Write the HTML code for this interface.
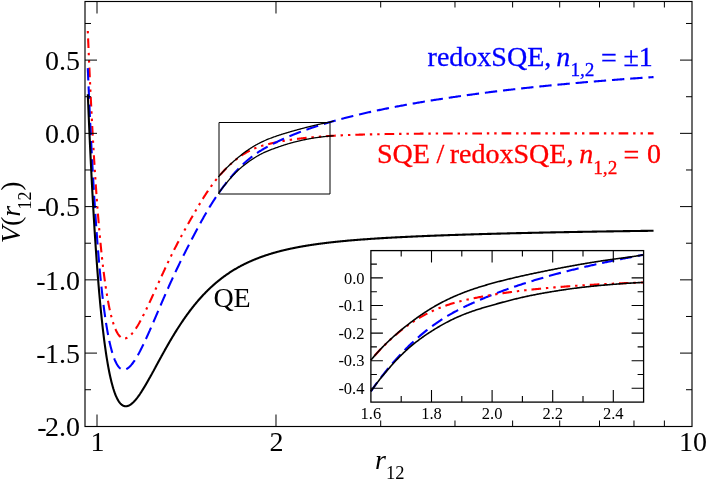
<!DOCTYPE html>
<html><head><meta charset="utf-8"><title>V(r12)</title>
<style>html,body{margin:0;padding:0;background:#fff;}svg{display:block;will-change:transform;}text{font-family:"Liberation Serif",serif;}</style></head><body>
<svg width="706" height="481" viewBox="0 0 706 481">
<rect width="706" height="481" fill="#fff"/>
<g fill="none" stroke-linejoin="round">
<path d="M87.80,31.00 L88.02,36.51 L88.25,41.93 L88.47,47.28 L88.70,52.54 L88.92,57.72 L89.14,62.83 L89.37,67.86 L89.59,72.81 L89.81,77.69 L90.04,82.50 L90.26,87.23 L90.48,91.89 L90.70,96.48 L90.93,101.00 L91.15,105.45 L91.37,109.84 L91.59,114.15 L91.81,118.40 L92.03,122.59 L92.25,126.71 L92.48,130.77 L92.70,134.76 L92.92,138.70 L93.14,142.57 L93.36,146.38 L93.58,150.13 L93.80,153.83 L94.02,157.46 L94.23,161.04 L94.45,164.57 L94.67,168.03 L94.89,171.45 L95.11,174.81 L95.33,178.11 L95.55,181.37 L95.76,184.57 L95.98,187.72 L96.20,190.82 L96.42,193.87 L96.63,196.87 L96.85,199.83 L97.07,202.73 L97.28,205.59 L97.50,208.40 L97.72,211.17 L97.93,213.89 L98.15,216.56 L98.37,219.20 L98.58,221.78 L98.80,224.33 L99.01,226.83 L99.23,229.30 L99.44,231.72 L99.66,234.10 L99.87,236.44 L100.08,238.74 L100.30,241.00 L100.51,243.22 L100.73,245.41 L100.94,247.56 L101.15,249.67 L101.37,251.74 L101.58,253.78 L101.79,255.78 L102.01,257.75 L102.22,259.68 L102.43,261.58 L102.64,263.45 L102.85,265.28 L103.07,267.08 L103.28,268.85 L103.49,270.59 L103.70,272.29 L103.91,273.97 L104.12,275.61 L104.33,277.22 L104.55,278.81 L104.76,280.36 L104.97,281.89 L105.18,283.38 L105.39,284.85 L105.60,286.29 L105.81,287.71 L106.01,289.10 L106.22,290.46 L106.43,291.79 L106.64,293.10 L106.85,294.38 L107.06,295.64 L107.27,296.87 L107.48,298.08 L107.68,299.26 L107.89,300.42 L108.10,301.56 L108.31,302.67 L108.52,303.76 L108.72,304.83 L108.93,305.87 L109.14,306.90 L109.34,307.90 L109.55,308.88 L109.76,309.84 L109.96,310.78 L110.17,311.69 L110.37,312.59 L110.58,313.47 L110.79,314.33 L110.99,315.16 L111.20,315.98 L111.40,316.78 L111.61,317.57 L111.81,318.33 L112.02,319.07 L112.22,319.80 L112.43,320.51 L112.63,321.20 L112.83,321.88 L113.04,322.54 L113.24,323.18 L113.44,323.80 L113.65,324.41 L113.85,325.01 L114.05,325.58 L114.26,326.15 L114.46,326.69 L114.66,327.22 L114.86,327.74 L115.07,328.24 L115.27,328.73 L115.47,329.20 L115.67,329.66 L115.87,330.10 L116.08,330.54 L116.28,330.95 L116.48,331.36 L116.68,331.75 L116.88,332.13 L117.08,332.49 L117.28,332.84 L117.48,333.18 L117.68,333.51 L117.88,333.83 L118.08,334.13 L118.28,334.43 L118.48,334.71 L118.68,334.98 L118.88,335.23 L119.08,335.48 L119.28,335.72 L119.48,335.94 L119.68,336.16 L119.87,336.36 L120.07,336.55 L120.27,336.74 L120.47,336.91 L120.67,337.08 L120.86,337.23 L121.06,337.37 L121.26,337.51 L121.46,337.63 L121.65,337.75 L121.85,337.86 L122.05,337.96 L122.24,338.05 L122.44,338.13 L122.64,338.20 L122.83,338.26 L123.03,338.32 L123.23,338.37 L123.42,338.41 L123.62,338.44 L123.81,338.46 L124.01,338.48 L124.20,338.49 L124.40,338.49 L124.59,338.48 L124.79,338.47 L124.98,338.44 L125.18,338.42 L125.37,338.38 L125.56,338.34 L125.76,338.29 L125.95,338.24 L126.15,338.17 L126.34,338.11 L126.53,338.03 L126.73,337.95 L126.92,337.86 L127.11,337.77 L127.31,337.67 L127.50,337.57 L127.69,337.46 L127.88,337.35 L128.08,337.23 L128.27,337.10 L128.46,336.97 L128.65,336.83 L128.84,336.69 L129.04,336.54 L129.23,336.39 L129.42,336.24 L129.61,336.08 L129.80,335.91 L129.99,335.74 L130.18,335.57 L130.37,335.39 L130.56,335.20 L130.75,335.02 L130.94,334.82 L131.13,334.63 L131.32,334.43 L131.51,334.22 L131.70,334.01 L131.89,333.80 L132.08,333.58 L132.27,333.36 L132.46,333.14 L132.65,332.91 L132.84,332.68 L133.03,332.45 L133.21,332.21 L133.40,331.97 L133.59,331.72 L133.78,331.47 L133.97,331.22 L134.16,330.97 L134.34,330.71 L134.53,330.45 L134.72,330.19 L134.91,329.92 L135.09,329.65 L135.28,329.38 L135.47,329.10 L135.65,328.82 L135.84,328.54 L136.03,328.26 L136.21,327.97 L136.40,327.69 L136.58,327.39 L136.77,327.10 L136.96,326.80 L137.14,326.51 L137.33,326.21 L137.51,325.90 L137.70,325.60 L137.88,325.29 L138.07,324.98 L138.25,324.67 L138.44,324.36 L138.62,324.04 L138.81,323.72 L138.99,323.40 L139.18,323.08 L139.36,322.76 L139.54,322.43 L139.73,322.10 L139.91,321.78 L140.09,321.45 L140.28,321.11 L140.46,320.78 L140.64,320.44 L140.83,320.11 L141.01,319.77 L141.19,319.43 L141.38,319.09 L141.56,318.74 L141.74,318.40 L141.92,318.05 L142.11,317.71 L142.29,317.36 L142.47,317.01 L142.65,316.66 L142.83,316.31 L143.01,315.95 L143.20,315.60 L143.38,315.24 L143.56,314.89 L143.74,314.53 L143.92,314.17 L144.10,313.81 L144.28,313.45 L144.46,313.09 L144.64,312.72 L144.82,312.36 L145.00,312.00 L145.18,311.63 L145.36,311.26 L145.54,310.90 L145.72,310.53 L145.90,310.16 L146.08,309.79 L146.26,309.42 L146.44,309.05 L146.62,308.68 L146.80,308.31 L146.97,307.93 L147.15,307.56 L147.33,307.19 L147.51,306.81 L147.69,306.44 L147.87,306.06 L148.04,305.69 L148.22,305.31 L148.40,304.93 L148.58,304.56 L148.76,304.18 L148.93,303.80 L149.11,303.42 L149.29,303.04 L149.46,302.66 L149.64,302.28 L149.82,301.90 L149.99,301.52 L150.17,301.14 L150.35,300.76 L150.52,300.38 L150.70,300.00 L150.88,299.62 L151.05,299.24 L151.23,298.86 L151.40,298.48 L151.58,298.09 L151.75,297.71 L151.93,297.33 L152.10,296.95 L152.28,296.56 L152.45,296.18 L152.63,295.80 L152.80,295.42 L152.98,295.04 L153.15,294.65 L153.33,294.27 L153.50,293.89 L153.68,293.51 L153.85,293.12 L154.02,292.74 L154.20,292.36 L154.37,291.98 L154.55,291.59 L154.72,291.21 L154.89,290.83 L155.06,290.45 L155.24,290.07 L155.41,289.69 L155.58,289.30 L155.76,288.92 L155.93,288.54 L156.10,288.16 L156.27,287.78 L156.45,287.40 L156.62,287.02 L156.79,286.64 L156.96,286.26 L157.13,285.88 L157.31,285.50 L157.48,285.13 L157.65,284.75 L157.82,284.37 L157.99,283.99 L158.16,283.61 L158.33,283.24 L158.51,282.86 L158.68,282.48 L158.85,282.11 L159.02,281.73 L159.19,281.36 L159.36,280.98 L159.53,280.61 L159.70,280.23 L159.87,279.86 L160.04,279.49 L160.21,279.11 L160.38,278.74 L160.55,278.37 L160.72,278.00 L160.89,277.63 L161.06,277.26 L161.22,276.89 L161.39,276.52 L161.56,276.15 L161.73,275.78 L161.90,275.41 L162.07,275.05 L162.24,274.68 L162.41,274.31 L162.57,273.95 L162.74,273.58 L162.91,273.22 L163.08,272.85 L163.25,272.49 L163.41,272.12 L163.58,271.76 L163.75,271.40 L163.92,271.04 L164.08,270.68 L164.25,270.32 L164.42,269.96 L164.58,269.60 L164.75,269.24 L165.27,268.13 L165.78,267.03 L166.30,265.94 L166.81,264.85 L167.33,263.76 L167.84,262.69 L168.35,261.62 L168.86,260.55 L169.37,259.50 L169.87,258.45 L170.38,257.41 L170.89,256.37 L171.39,255.34 L171.90,254.32 L172.40,253.30 L172.90,252.30 L173.40,251.30 L173.90,250.30 L174.40,249.32 L174.90,248.34 L175.40,247.36 L175.89,246.40 L176.39,245.44 L176.88,244.48 L177.37,243.54 L177.87,242.60 L178.36,241.66 L178.85,240.74 L179.34,239.81 L179.83,238.90 L180.31,237.99 L180.80,237.08 L181.29,236.18 L181.77,235.29 L182.26,234.40 L182.74,233.51 L183.22,232.64 L183.70,231.76 L184.18,230.89 L184.66,230.02 L185.14,229.16 L185.62,228.30 L186.10,227.45 L186.57,226.60 L187.05,225.75 L187.52,224.91 L187.99,224.07 L188.47,223.23 L188.94,222.40 L189.41,221.57 L189.88,220.74 L190.35,219.92 L190.82,219.10 L191.28,218.28 L191.75,217.47 L192.22,216.65 L192.68,215.85 L193.15,215.04 L193.61,214.24 L194.07,213.44 L194.53,212.64 L194.99,211.85 L195.45,211.06 L195.91,210.27 L196.37,209.49 L196.83,208.71 L197.28,207.93 L197.74,207.16 L198.20,206.40 L198.65,205.63 L199.10,204.87 L199.56,204.12 L200.01,203.37 L200.46,202.62 L200.91,201.88 L201.36,201.15 L201.81,200.42 L202.26,199.69 L202.70,198.97 L203.15,198.26 L203.59,197.55 L204.04,196.85 L204.48,196.15 L204.93,195.46 L205.37,194.77 L205.81,194.09 L206.25,193.42 L206.69,192.75 L207.13,192.09 L207.57,191.43 L208.01,190.79 L208.45,190.14 L208.88,189.51 L209.32,188.88 L209.75,188.25 L210.19,187.64 L210.62,187.03 L211.05,186.42 L211.49,185.82 L211.92,185.23 L212.35,184.64 L212.78,184.07 L213.21,183.49 L213.64,182.92 L214.06,182.36 L214.49,181.81 L214.92,181.26 L215.34,180.71 L215.77,180.17 L216.19,179.64 L216.62,179.11 L217.04,178.59 L217.46,178.08 L217.88,177.57 L218.31,177.06 L218.73,176.56 L219.14,176.07 L219.56,175.58 L219.98,175.09 L220.40,174.62 L220.82,174.14 L221.23,173.67 L221.65,173.21 L222.06,172.75 L222.48,172.30 L222.89,171.85 L223.30,171.40 L223.72,170.96 L224.13,170.52 L224.54,170.09 L224.95,169.67 L225.36,169.25 L225.77,168.83 L226.17,168.42 L226.58,168.01 L226.99,167.60 L227.40,167.20 L227.80,166.81 L228.21,166.42 L228.61,166.03 L229.01,165.65 L229.42,165.27 L229.82,164.89 L230.22,164.52 L230.62,164.15 L231.02,163.79 L231.42,163.43 L231.82,163.08 L232.22,162.73 L232.62,162.38 L233.02,162.04 L233.42,161.70 L233.81,161.37 L234.21,161.04 L234.60,160.71 L235.00,160.39 L235.39,160.07 L235.78,159.75 L236.18,159.44 L236.57,159.13 L236.96,158.83 L237.35,158.53 L237.74,158.23 L238.13,157.94 L238.52,157.65 L238.91,157.36 L239.30,157.08 L239.69,156.80 L240.07,156.53 L240.46,156.26 L240.84,155.99 L241.23,155.73 L241.61,155.47 L242.00,155.21 L242.38,154.95 L242.76,154.70 L243.15,154.46 L243.53,154.21 L243.91,153.97 L244.29,153.74 L244.67,153.50 L245.05,153.27 L245.43,153.04 L245.81,152.82 L246.18,152.60 L246.56,152.38 L246.94,152.17 L247.31,151.96 L247.69,151.75 L248.07,151.54 L248.44,151.34 L248.81,151.14 L249.19,150.95 L249.56,150.76 L249.93,150.57 L250.30,150.38 L250.68,150.20 L251.05,150.02 L251.42,149.84 L251.79,149.66 L252.16,149.49 L252.52,149.32 L252.89,149.15 L253.26,148.99 L253.63,148.83 L253.99,148.67 L254.36,148.51 L254.72,148.36 L255.09,148.21 L255.45,148.06 L255.82,147.92 L256.18,147.77 L256.54,147.63 L256.91,147.49 L257.27,147.36 L257.63,147.23 L257.99,147.09 L258.35,146.97 L258.71,146.84 L259.07,146.72 L259.43,146.59 L259.79,146.47 L260.15,146.36 L260.50,146.24 L260.86,146.13 L261.22,146.01 L261.57,145.90 L261.93,145.80 L262.28,145.69 L262.64,145.59 L262.99,145.48 L263.35,145.38 L263.70,145.29 L264.05,145.19 L264.40,145.09 L264.75,145.00 L265.11,144.90 L265.46,144.81 L265.81,144.72 L266.16,144.63 L266.51,144.54 L266.85,144.45 L267.20,144.37 L267.55,144.28 L267.90,144.19 L268.24,144.11 L268.59,144.02 L268.94,143.94 L269.28,143.86 L269.63,143.77 L269.97,143.69 L270.32,143.61 L270.66,143.53 L271.00,143.45 L271.35,143.37 L271.69,143.29 L272.03,143.22 L272.37,143.14 L272.71,143.06 L273.05,142.99 L273.39,142.92 L273.73,142.84 L274.07,142.77 L274.41,142.70 L274.75,142.62 L275.09,142.55 L275.42,142.48 L275.76,142.41 L276.10,142.34 L276.43,142.27 L276.77,142.20 L277.10,142.14 L277.44,142.07 L277.77,142.00 L278.11,141.94 L278.44,141.87 L278.77,141.81 L279.10,141.74 L279.44,141.68 L279.77,141.62 L280.10,141.55 L280.43,141.49 L280.76,141.43 L281.09,141.37 L281.42,141.31 L281.75,141.25 L282.08,141.19 L282.41,141.13 L282.73,141.07 L283.06,141.02 L283.39,140.96 L283.72,140.90 L284.04,140.85 L284.37,140.79 L284.69,140.73 L285.02,140.68 L285.34,140.63 L285.67,140.57 L285.99,140.52 L286.31,140.47 L286.64,140.41 L286.96,140.36 L287.28,140.31 L287.60,140.26 L287.93,140.21 L288.25,140.16 L288.57,140.11 L288.89,140.06 L289.21,140.01 L289.53,139.96 L289.85,139.91 L290.16,139.86 L290.48,139.82 L290.80,139.77 L291.12,139.72 L291.43,139.68 L291.75,139.63 L292.07,139.58 L292.38,139.54 L292.70,139.49 L293.01,139.45 L293.33,139.41 L293.64,139.36 L293.96,139.32 L294.27,139.28 L294.58,139.23 L294.90,139.19 L295.21,139.15 L295.52,139.11 L295.83,139.07 L296.14,139.03 L296.45,138.99 L296.77,138.95 L297.08,138.91 L297.39,138.87 L297.69,138.83 L298.00,138.79 L298.31,138.75 L298.62,138.71 L298.93,138.67 L299.24,138.64 L299.54,138.60 L299.85,138.56 L300.16,138.53 L300.46,138.49 L300.77,138.45 L301.07,138.42 L301.38,138.38 L301.68,138.35 L301.99,138.31 L302.29,138.28 L302.60,138.24 L302.90,138.21 L303.20,138.18 L303.50,138.14 L303.81,138.11 L304.11,138.08 L304.41,138.04 L304.71,138.01 L305.01,137.98 L305.31,137.95 L305.61,137.91 L305.91,137.88 L306.21,137.85 L306.51,137.82 L306.81,137.79 L307.11,137.76 L307.41,137.73 L307.70,137.70 L308.00,137.67 L308.30,137.64 L308.59,137.61 L308.89,137.58 L309.19,137.55 L309.48,137.52 L309.78,137.50 L310.07,137.47 L310.37,137.44 L310.66,137.41 L310.96,137.39 L311.25,137.36 L311.54,137.33 L311.84,137.30 L312.13,137.28 L312.42,137.25 L312.71,137.23 L313.00,137.20 L313.30,137.17 L313.59,137.15 L313.88,137.12 L314.17,137.10 L314.46,137.07 L314.75,137.05 L315.04,137.02 L315.33,137.00 L315.61,136.97 L315.90,136.95 L316.19,136.93 L316.48,136.90 L316.77,136.88 L317.05,136.86 L317.34,136.83 L317.63,136.81 L317.91,136.79 L318.20,136.76 L318.48,136.74 L318.77,136.72 L319.05,136.70 L319.34,136.68 L319.62,136.65 L319.91,136.63 L320.19,136.61 L320.47,136.59 L320.76,136.57 L321.04,136.55 L321.32,136.53 L321.60,136.51 L321.88,136.49 L322.17,136.46 L322.45,136.44 L322.73,136.42 L323.01,136.40 L323.29,136.39 L323.57,136.37 L323.85,136.35 L324.13,136.33 L324.41,136.31 L324.69,136.29 L324.96,136.27 L325.24,136.25 L325.52,136.23 L325.80,136.21 L326.07,136.20 L326.35,136.18 L326.63,136.16 L326.90,136.14 L327.18,136.12 L327.46,136.11 L327.73,136.09 L328.01,136.07 L328.28,136.05 L328.56,136.04 L328.83,136.02 L329.10,136.00 L329.38,135.99 L329.65,135.97 L329.93,135.95 L330.20,135.94 L330.47,135.92 L330.74,135.90 L331.01,135.89 L331.29,135.87 L331.56,135.86 L331.83,135.84 L332.10,135.83 L332.37,135.81 L332.64,135.79 L332.91,135.78 L333.18,135.76 L333.45,135.75 L333.72,135.73 L333.99,135.72 L334.26,135.71 L334.52,135.69 L334.79,135.68 L335.06,135.66 L335.33,135.65 L335.59,135.63 L335.86,135.62 L336.13,135.61 L336.39,135.59 L336.66,135.58 L336.93,135.56 L337.19,135.55 L337.46,135.54 L337.72,135.52 L337.99,135.51 L338.25,135.50 L338.52,135.48 L338.78,135.47 L339.04,135.46 L339.31,135.45 L339.57,135.43 L339.83,135.42 L340.10,135.41 L340.36,135.40 L340.62,135.38 L340.88,135.37 L341.14,135.36 L341.40,135.35 L341.66,135.33 L341.93,135.32 L342.19,135.31 L342.45,135.30 L342.71,135.29 L342.97,135.28 L343.23,135.26 L343.48,135.25 L343.74,135.24 L344.78,135.20 L345.82,135.15 L346.85,135.11 L347.89,135.07 L348.92,135.03 L349.96,134.99 L351.00,134.95 L352.03,134.91 L353.07,134.87 L354.10,134.84 L355.14,134.80 L356.18,134.77 L357.21,134.73 L358.25,134.70 L359.29,134.67 L360.32,134.64 L361.36,134.61 L362.39,134.58 L363.43,134.55 L364.47,134.52 L365.50,134.49 L366.54,134.46 L367.57,134.44 L368.61,134.41 L369.65,134.39 L370.68,134.36 L371.72,134.34 L372.76,134.32 L373.79,134.29 L374.83,134.27 L375.86,134.25 L376.90,134.23 L377.94,134.21 L378.97,134.19 L380.01,134.17 L381.04,134.15 L382.08,134.13 L383.12,134.11 L384.15,134.09 L385.19,134.07 L386.23,134.06 L387.26,134.04 L388.30,134.02 L389.33,134.01 L390.37,133.99 L391.41,133.98 L392.44,133.96 L393.48,133.95 L394.51,133.93 L395.55,133.92 L396.59,133.91 L397.62,133.89 L398.66,133.88 L399.70,133.87 L400.73,133.85 L401.77,133.84 L402.80,133.83 L403.84,133.82 L404.88,133.81 L405.91,133.80 L406.95,133.79 L407.98,133.78 L409.02,133.77 L410.06,133.76 L411.09,133.75 L412.13,133.74 L413.17,133.73 L414.20,133.72 L415.24,133.71 L416.27,133.70 L417.31,133.69 L418.35,133.68 L419.38,133.68 L420.42,133.67 L421.45,133.66 L422.49,133.65 L423.53,133.65 L424.56,133.64 L425.60,133.63 L426.64,133.63 L427.67,133.62 L428.71,133.61 L429.74,133.61 L430.78,133.60 L431.82,133.59 L432.85,133.59 L433.89,133.58 L434.92,133.58 L435.96,133.57 L437.00,133.57 L438.03,133.56 L439.07,133.56 L440.11,133.55 L441.14,133.55 L442.18,133.54 L443.21,133.54 L444.25,133.53 L445.29,133.53 L446.32,133.52 L447.36,133.52 L448.39,133.52 L449.43,133.51 L450.47,133.51 L451.50,133.51 L452.54,133.50 L453.58,133.50 L454.61,133.49 L455.65,133.49 L456.68,133.49 L457.72,133.48 L458.76,133.48 L459.79,133.48 L460.83,133.47 L461.86,133.47 L462.90,133.47 L463.94,133.47 L464.97,133.46 L466.01,133.46 L467.05,133.46 L468.08,133.46 L469.12,133.45 L470.15,133.45 L471.19,133.45 L472.23,133.45 L473.26,133.44 L474.30,133.44 L475.33,133.44 L476.37,133.44 L477.41,133.43 L478.44,133.43 L479.48,133.43 L480.51,133.43 L481.55,133.43 L482.59,133.43 L483.62,133.42 L484.66,133.42 L485.70,133.42 L486.73,133.42 L487.77,133.42 L488.80,133.42 L489.84,133.41 L490.88,133.41 L491.91,133.41 L492.95,133.41 L493.98,133.41 L495.02,133.41 L496.06,133.41 L497.09,133.40 L498.13,133.40 L499.17,133.40 L500.20,133.40 L501.24,133.40 L502.27,133.40 L503.31,133.40 L504.35,133.40 L505.38,133.39 L506.42,133.39 L507.45,133.39 L508.49,133.39 L509.53,133.39 L510.56,133.39 L511.60,133.39 L512.64,133.39 L513.67,133.39 L514.71,133.39 L515.74,133.38 L516.78,133.38 L517.82,133.38 L518.85,133.38 L519.89,133.38 L520.92,133.38 L521.96,133.38 L523.00,133.38 L524.03,133.38 L525.07,133.38 L526.11,133.38 L527.14,133.38 L528.18,133.38 L529.21,133.38 L530.25,133.37 L531.29,133.37 L532.32,133.37 L533.36,133.37 L534.39,133.37 L535.43,133.37 L536.47,133.37 L537.50,133.37 L538.54,133.37 L539.58,133.37 L540.61,133.37 L541.65,133.37 L542.68,133.37 L543.72,133.37 L544.76,133.37 L545.79,133.37 L546.83,133.37 L547.86,133.37 L548.90,133.37 L549.94,133.37 L550.97,133.37 L552.01,133.37 L553.05,133.36 L554.08,133.36 L555.12,133.36 L556.15,133.36 L557.19,133.36 L558.23,133.36 L559.26,133.36 L560.30,133.36 L561.33,133.36 L562.37,133.36 L563.41,133.36 L564.44,133.36 L565.48,133.36 L566.52,133.36 L567.55,133.36 L568.59,133.36 L569.62,133.36 L570.66,133.36 L571.70,133.36 L572.73,133.36 L573.77,133.36 L574.80,133.36 L575.84,133.36 L576.88,133.36 L577.91,133.36 L578.95,133.36 L579.99,133.36 L581.02,133.36 L582.06,133.36 L583.09,133.36 L584.13,133.36 L585.17,133.36 L586.20,133.36 L587.24,133.36 L588.27,133.36 L589.31,133.36 L590.35,133.36 L591.38,133.36 L592.42,133.36 L593.46,133.36 L594.49,133.36 L595.53,133.36 L596.56,133.36 L597.60,133.36 L598.64,133.36 L599.67,133.35 L600.71,133.35 L601.74,133.35 L602.78,133.35 L603.82,133.35 L604.85,133.35 L605.89,133.35 L606.93,133.35 L607.96,133.35 L609.00,133.35 L610.03,133.35 L611.07,133.35 L612.11,133.35 L613.14,133.35 L614.18,133.35 L615.21,133.35 L616.25,133.35 L617.29,133.35 L618.32,133.35 L619.36,133.35 L620.40,133.35 L621.43,133.35 L622.47,133.35 L623.50,133.35 L624.54,133.35 L625.58,133.35 L626.61,133.35 L627.65,133.35 L628.68,133.35 L629.72,133.35 L630.76,133.35 L631.79,133.35 L632.83,133.35 L633.87,133.35 L634.90,133.35 L635.94,133.35 L636.97,133.35 L638.01,133.35 L639.05,133.35 L640.08,133.35 L641.12,133.35 L642.15,133.35 L643.19,133.35 L644.23,133.35 L645.26,133.35 L646.30,133.35 L647.34,133.35 L648.37,133.35 L649.41,133.35 L650.44,133.35 L651.48,133.35 L652.52,133.35 L653.55,133.35" stroke="#ff0000" stroke-width="2.10" stroke-dasharray="2.4 4.97 9.64 4.87 2.4 4.976" stroke-dashoffset="0"/>
<path d="M87.80,68.11 L88.02,73.57 L88.25,78.94 L88.47,84.23 L88.70,89.45 L88.92,94.58 L89.14,99.64 L89.37,104.62 L89.59,109.52 L89.81,114.35 L90.04,119.11 L90.26,123.80 L90.48,128.41 L90.70,132.95 L90.93,137.43 L91.15,141.83 L91.37,146.17 L91.59,150.44 L91.81,154.64 L92.03,158.78 L92.25,162.86 L92.48,166.87 L92.70,170.82 L92.92,174.71 L93.14,178.53 L93.36,182.30 L93.58,186.01 L93.80,189.66 L94.02,193.25 L94.23,196.79 L94.45,200.27 L94.67,203.69 L94.89,207.06 L95.11,210.38 L95.33,213.64 L95.55,216.85 L95.76,220.01 L95.98,223.12 L96.20,226.18 L96.42,229.19 L96.63,232.15 L96.85,235.06 L97.07,237.93 L97.28,240.74 L97.50,243.51 L97.72,246.24 L97.93,248.92 L98.15,251.56 L98.37,254.15 L98.58,256.70 L98.80,259.20 L99.01,261.67 L99.23,264.09 L99.44,266.47 L99.66,268.81 L99.87,271.12 L100.08,273.38 L100.30,275.60 L100.51,277.79 L100.73,279.93 L100.94,282.04 L101.15,284.12 L101.37,286.15 L101.58,288.16 L101.79,290.12 L102.01,292.05 L102.22,293.95 L102.43,295.81 L102.64,297.64 L102.85,299.44 L103.07,301.21 L103.28,302.94 L103.49,304.64 L103.70,306.31 L103.91,307.95 L104.12,309.56 L104.33,311.14 L104.55,312.68 L104.76,314.20 L104.97,315.70 L105.18,317.16 L105.39,318.59 L105.60,320.00 L105.81,321.38 L106.01,322.74 L106.22,324.06 L106.43,325.36 L106.64,326.64 L106.85,327.89 L107.06,329.11 L107.27,330.31 L107.48,331.49 L107.68,332.64 L107.89,333.77 L108.10,334.87 L108.31,335.95 L108.52,337.01 L108.72,338.05 L108.93,339.06 L109.14,340.06 L109.34,341.03 L109.55,341.98 L109.76,342.90 L109.96,343.81 L110.17,344.70 L110.37,345.57 L110.58,346.42 L110.79,347.24 L110.99,348.05 L111.20,348.84 L111.40,349.61 L111.61,350.37 L111.81,351.10 L112.02,351.82 L112.22,352.52 L112.43,353.20 L112.63,353.86 L112.83,354.51 L113.04,355.14 L113.24,355.75 L113.44,356.35 L113.65,356.93 L113.85,357.50 L114.05,358.05 L114.26,358.58 L114.46,359.10 L114.66,359.60 L114.86,360.09 L115.07,360.57 L115.27,361.03 L115.47,361.47 L115.67,361.91 L115.87,362.33 L116.08,362.73 L116.28,363.12 L116.48,363.50 L116.68,363.87 L116.88,364.22 L117.08,364.56 L117.28,364.89 L117.48,365.20 L117.68,365.50 L117.88,365.79 L118.08,366.07 L118.28,366.34 L118.48,366.60 L118.68,366.84 L118.88,367.08 L119.08,367.30 L119.28,367.51 L119.48,367.71 L119.68,367.90 L119.87,368.08 L120.07,368.25 L120.27,368.41 L120.47,368.56 L120.67,368.71 L120.86,368.84 L121.06,368.96 L121.26,369.07 L121.46,369.17 L121.65,369.27 L121.85,369.35 L122.05,369.43 L122.24,369.49 L122.44,369.55 L122.64,369.60 L122.83,369.64 L123.03,369.68 L123.23,369.70 L123.42,369.72 L123.62,369.73 L123.81,369.73 L124.01,369.73 L124.20,369.72 L124.40,369.70 L124.59,369.67 L124.79,369.63 L124.98,369.59 L125.18,369.54 L125.37,369.49 L125.56,369.42 L125.76,369.35 L125.95,369.28 L126.15,369.20 L126.34,369.11 L126.53,369.01 L126.73,368.91 L126.92,368.81 L127.11,368.69 L127.31,368.58 L127.50,368.45 L127.69,368.32 L127.88,368.19 L128.08,368.05 L128.27,367.90 L128.46,367.75 L128.65,367.59 L128.84,367.43 L129.04,367.27 L129.23,367.09 L129.42,366.92 L129.61,366.74 L129.80,366.55 L129.99,366.36 L130.18,366.17 L130.37,365.97 L130.56,365.76 L130.75,365.56 L130.94,365.34 L131.13,365.13 L131.32,364.91 L131.51,364.68 L131.70,364.45 L131.89,364.22 L132.08,363.98 L132.27,363.74 L132.46,363.50 L132.65,363.25 L132.84,363.00 L133.03,362.75 L133.21,362.49 L133.40,362.23 L133.59,361.96 L133.78,361.69 L133.97,361.42 L134.16,361.15 L134.34,360.87 L134.53,360.59 L134.72,360.31 L134.91,360.02 L135.09,359.73 L135.28,359.44 L135.47,359.14 L135.65,358.84 L135.84,358.54 L136.03,358.24 L136.21,357.93 L136.40,357.62 L136.58,357.31 L136.77,357.00 L136.96,356.68 L137.14,356.36 L137.33,356.04 L137.51,355.72 L137.70,355.39 L137.88,355.07 L138.07,354.74 L138.25,354.41 L138.44,354.07 L138.62,353.74 L138.81,353.40 L138.99,353.06 L139.18,352.72 L139.36,352.37 L139.54,352.03 L139.73,351.68 L139.91,351.33 L140.09,350.98 L140.28,350.63 L140.46,350.27 L140.64,349.92 L140.83,349.56 L141.01,349.20 L141.19,348.84 L141.38,348.48 L141.56,348.12 L141.74,347.75 L141.92,347.39 L142.11,347.02 L142.29,346.65 L142.47,346.28 L142.65,345.91 L142.83,345.54 L143.01,345.16 L143.20,344.79 L143.38,344.41 L143.56,344.04 L143.74,343.66 L143.92,343.28 L144.10,342.90 L144.28,342.52 L144.46,342.14 L144.64,341.75 L144.82,341.37 L145.00,340.98 L145.18,340.60 L145.36,340.21 L145.54,339.82 L145.72,339.44 L145.90,339.05 L146.08,338.66 L146.26,338.27 L146.44,337.87 L146.62,337.48 L146.80,337.09 L146.97,336.70 L147.15,336.30 L147.33,335.91 L147.51,335.51 L147.69,335.12 L147.87,334.72 L148.04,334.33 L148.22,333.93 L148.40,333.53 L148.58,333.13 L148.76,332.73 L148.93,332.34 L149.11,331.94 L149.29,331.54 L149.46,331.14 L149.64,330.74 L149.82,330.34 L149.99,329.93 L150.17,329.53 L150.35,329.13 L150.52,328.73 L150.70,328.33 L150.88,327.93 L151.05,327.52 L151.23,327.12 L151.40,326.72 L151.58,326.31 L151.75,325.91 L151.93,325.51 L152.10,325.10 L152.28,324.70 L152.45,324.30 L152.63,323.89 L152.80,323.49 L152.98,323.09 L153.15,322.68 L153.33,322.28 L153.50,321.87 L153.68,321.47 L153.85,321.07 L154.02,320.66 L154.20,320.26 L154.37,319.86 L154.55,319.45 L154.72,319.05 L154.89,318.65 L155.06,318.24 L155.24,317.84 L155.41,317.44 L155.58,317.03 L155.76,316.63 L155.93,316.23 L156.10,315.82 L156.27,315.42 L156.45,315.02 L156.62,314.62 L156.79,314.22 L156.96,313.81 L157.13,313.41 L157.31,313.01 L157.48,312.61 L157.65,312.21 L157.82,311.81 L157.99,311.41 L158.16,311.01 L158.33,310.61 L158.51,310.21 L158.68,309.81 L158.85,309.42 L159.02,309.02 L159.19,308.62 L159.36,308.22 L159.53,307.82 L159.70,307.43 L159.87,307.03 L160.04,306.64 L160.21,306.24 L160.38,305.85 L160.55,305.45 L160.72,305.06 L160.89,304.66 L161.06,304.27 L161.22,303.88 L161.39,303.48 L161.56,303.09 L161.73,302.70 L161.90,302.31 L162.07,301.92 L162.24,301.53 L162.41,301.14 L162.57,300.75 L162.74,300.36 L162.91,299.97 L163.08,299.58 L163.25,299.19 L163.41,298.81 L163.58,298.42 L163.75,298.04 L163.92,297.65 L164.08,297.26 L164.25,296.88 L164.42,296.50 L164.58,296.11 L164.75,295.73 L165.27,294.55 L165.78,293.37 L166.30,292.20 L166.81,291.03 L167.33,289.87 L167.84,288.71 L168.35,287.57 L168.86,286.42 L169.37,285.29 L169.87,284.16 L170.38,283.03 L170.89,281.92 L171.39,280.81 L171.90,279.70 L172.40,278.60 L172.90,277.51 L173.40,276.43 L173.90,275.35 L174.40,274.28 L174.90,273.21 L175.40,272.15 L175.89,271.10 L176.39,270.06 L176.88,269.02 L177.37,267.98 L177.87,266.96 L178.36,265.93 L178.85,264.92 L179.34,263.91 L179.83,262.91 L180.31,261.91 L180.80,260.92 L181.29,259.93 L181.77,258.95 L182.26,257.97 L182.74,257.00 L183.22,256.03 L183.70,255.07 L184.18,254.12 L184.66,253.16 L185.14,252.22 L185.62,251.27 L186.10,250.33 L186.57,249.40 L187.05,248.47 L187.52,247.54 L187.99,246.62 L188.47,245.70 L188.94,244.78 L189.41,243.87 L189.88,242.96 L190.35,242.05 L190.82,241.15 L191.28,240.25 L191.75,239.35 L192.22,238.46 L192.68,237.57 L193.15,236.69 L193.61,235.81 L194.07,234.93 L194.53,234.05 L194.99,233.18 L195.45,232.31 L195.91,231.44 L196.37,230.58 L196.83,229.72 L197.28,228.87 L197.74,228.02 L198.20,227.17 L198.65,226.33 L199.10,225.49 L199.56,224.66 L200.01,223.83 L200.46,223.00 L200.91,222.18 L201.36,221.36 L201.81,220.55 L202.26,219.75 L202.70,218.94 L203.15,218.15 L203.59,217.35 L204.04,216.57 L204.48,215.79 L204.93,215.01 L205.37,214.24 L205.81,213.47 L206.25,212.71 L206.69,211.96 L207.13,211.21 L207.57,210.46 L208.01,209.72 L208.45,208.99 L208.88,208.27 L209.32,207.54 L209.75,206.83 L210.19,206.12 L210.62,205.41 L211.05,204.72 L211.49,204.02 L211.92,203.33 L212.35,202.65 L212.78,201.98 L213.21,201.30 L213.64,200.64 L214.06,199.98 L214.49,199.32 L214.92,198.68 L215.34,198.03 L215.77,197.39 L216.19,196.76 L216.62,196.13 L217.04,195.51 L217.46,194.89 L217.88,194.28 L218.31,193.67 L218.73,193.06 L219.14,192.47 L219.56,191.87 L219.98,191.28 L220.40,190.70 L220.82,190.12 L221.23,189.54 L221.65,188.97 L222.06,188.41 L222.48,187.85 L222.89,187.29 L223.30,186.74 L223.72,186.19 L224.13,185.65 L224.54,185.11 L224.95,184.57 L225.36,184.04 L225.77,183.51 L226.17,182.99 L226.58,182.47 L226.99,181.96 L227.40,181.45 L227.80,180.94 L228.21,180.44 L228.61,179.94 L229.01,179.45 L229.42,178.96 L229.82,178.48 L230.22,177.99 L230.62,177.52 L231.02,177.04 L231.42,176.57 L231.82,176.11 L232.22,175.64 L232.62,175.19 L233.02,174.73 L233.42,174.28 L233.81,173.83 L234.21,173.39 L234.60,172.95 L235.00,172.51 L235.39,172.08 L235.78,171.65 L236.18,171.23 L236.57,170.81 L236.96,170.39 L237.35,169.98 L237.74,169.57 L238.13,169.16 L238.52,168.76 L238.91,168.36 L239.30,167.97 L239.69,167.57 L240.07,167.19 L240.46,166.80 L240.84,166.42 L241.23,166.04 L241.61,165.67 L242.00,165.30 L242.38,164.93 L242.76,164.56 L243.15,164.20 L243.53,163.85 L243.91,163.49 L244.29,163.14 L244.67,162.80 L245.05,162.45 L245.43,162.11 L245.81,161.78 L246.18,161.44 L246.56,161.11 L246.94,160.78 L247.31,160.46 L247.69,160.14 L248.07,159.82 L248.44,159.51 L248.81,159.20 L249.19,158.89 L249.56,158.58 L249.93,158.28 L250.30,157.98 L250.68,157.69 L251.05,157.39 L251.42,157.10 L251.79,156.82 L252.16,156.53 L252.52,156.25 L252.89,155.97 L253.26,155.70 L253.63,155.43 L253.99,155.16 L254.36,154.89 L254.72,154.63 L255.09,154.37 L255.45,154.11 L255.82,153.85 L256.18,153.60 L256.54,153.35 L256.91,153.10 L257.27,152.86 L257.63,152.61 L257.99,152.37 L258.35,152.14 L258.71,151.90 L259.07,151.67 L259.43,151.44 L259.79,151.21 L260.15,150.99 L260.50,150.77 L260.86,150.54 L261.22,150.33 L261.57,150.11 L261.93,149.90 L262.28,149.68 L262.64,149.47 L262.99,149.27 L263.35,149.06 L263.70,148.86 L264.05,148.65 L264.40,148.45 L264.75,148.26 L265.11,148.06 L265.46,147.86 L265.81,147.67 L266.16,147.48 L266.51,147.28 L266.85,147.09 L267.20,146.90 L267.55,146.71 L267.90,146.53 L268.24,146.34 L268.59,146.15 L268.94,145.97 L269.28,145.78 L269.63,145.60 L269.97,145.42 L270.32,145.24 L270.66,145.06 L271.00,144.88 L271.35,144.70 L271.69,144.53 L272.03,144.35 L272.37,144.18 L272.71,144.00 L273.05,143.83 L273.39,143.66 L273.73,143.49 L274.07,143.32 L274.41,143.15 L274.75,142.98 L275.09,142.81 L275.42,142.64 L275.76,142.48 L276.10,142.31 L276.43,142.15 L276.77,141.99 L277.10,141.82 L277.44,141.66 L277.77,141.50 L278.11,141.34 L278.44,141.18 L278.77,141.02 L279.10,140.87 L279.44,140.71 L279.77,140.55 L280.10,140.40 L280.43,140.24 L280.76,140.09 L281.09,139.94 L281.42,139.79 L281.75,139.64 L282.08,139.48 L282.41,139.34 L282.73,139.19 L283.06,139.04 L283.39,138.89 L283.72,138.74 L284.04,138.60 L284.37,138.45 L284.69,138.31 L285.02,138.16 L285.34,138.02 L285.67,137.88 L285.99,137.74 L286.31,137.60 L286.64,137.45 L286.96,137.31 L287.28,137.18 L287.60,137.04 L287.93,136.90 L288.25,136.76 L288.57,136.63 L288.89,136.49 L289.21,136.35 L289.53,136.22 L289.85,136.09 L290.16,135.95 L290.48,135.82 L290.80,135.69 L291.12,135.56 L291.43,135.42 L291.75,135.29 L292.07,135.16 L292.38,135.03 L292.70,134.91 L293.01,134.78 L293.33,134.65 L293.64,134.52 L293.96,134.40 L294.27,134.27 L294.58,134.15 L294.90,134.02 L295.21,133.90 L295.52,133.77 L295.83,133.65 L296.14,133.53 L296.45,133.41 L296.77,133.28 L297.08,133.16 L297.39,133.04 L297.69,132.92 L298.00,132.80 L298.31,132.68 L298.62,132.57 L298.93,132.45 L299.24,132.33 L299.54,132.21 L299.85,132.10 L300.16,131.98 L300.46,131.87 L300.77,131.75 L301.07,131.64 L301.38,131.52 L301.68,131.41 L301.99,131.30 L302.29,131.18 L302.60,131.07 L302.90,130.96 L303.20,130.85 L303.50,130.74 L303.81,130.63 L304.11,130.52 L304.41,130.41 L304.71,130.30 L305.01,130.19 L305.31,130.08 L305.61,129.98 L305.91,129.87 L306.21,129.76 L306.51,129.66 L306.81,129.55 L307.11,129.44 L307.41,129.34 L307.70,129.23 L308.00,129.13 L308.30,129.03 L308.59,128.92 L308.89,128.82 L309.19,128.72 L309.48,128.62 L309.78,128.51 L310.07,128.41 L310.37,128.31 L310.66,128.21 L310.96,128.11 L311.25,128.01 L311.54,127.91 L311.84,127.81 L312.13,127.71 L312.42,127.61 L312.71,127.52 L313.00,127.42 L313.30,127.32 L313.59,127.22 L313.88,127.13 L314.17,127.03 L314.46,126.93 L314.75,126.84 L315.04,126.74 L315.33,126.65 L315.61,126.55 L315.90,126.46 L316.19,126.37 L316.48,126.27 L316.77,126.18 L317.05,126.09 L317.34,125.99 L317.63,125.90 L317.91,125.81 L318.20,125.72 L318.48,125.63 L318.77,125.54 L319.05,125.45 L319.34,125.36 L319.62,125.27 L319.91,125.18 L320.19,125.09 L320.47,125.00 L320.76,124.91 L321.04,124.82 L321.32,124.73 L321.60,124.65 L321.88,124.56 L322.17,124.47 L322.45,124.38 L322.73,124.30 L323.01,124.21 L323.29,124.13 L323.57,124.04 L323.85,123.95 L324.13,123.87 L324.41,123.79 L324.69,123.70 L324.96,123.62 L325.24,123.53 L325.52,123.45 L325.80,123.37 L326.07,123.28 L326.35,123.20 L326.63,123.12 L326.90,123.03 L327.18,122.95 L327.46,122.87 L327.73,122.79 L328.01,122.71 L328.28,122.63 L328.56,122.55 L328.83,122.47 L329.10,122.39 L329.38,122.31 L329.65,122.23 L329.93,122.15 L330.20,122.07 L330.47,121.99 L330.74,121.91 L331.01,121.83 L331.29,121.75 L331.56,121.68 L331.83,121.60 L332.10,121.52 L332.37,121.44 L332.64,121.37 L332.91,121.29 L333.18,121.21 L333.45,121.14 L333.72,121.06 L333.99,120.99 L334.26,120.91 L334.52,120.83 L334.79,120.76 L335.06,120.68 L335.33,120.61 L335.59,120.54 L335.86,120.46 L336.13,120.39 L336.39,120.31 L336.66,120.24 L336.93,120.17 L337.19,120.09 L337.46,120.02 L337.72,119.95 L337.99,119.88 L338.25,119.80 L338.52,119.73 L338.78,119.66 L339.04,119.59 L339.31,119.52 L339.57,119.45 L339.83,119.38 L340.10,119.31 L340.36,119.23 L340.62,119.16 L340.88,119.09 L341.14,119.02 L341.40,118.95 L341.66,118.89 L341.93,118.82 L342.19,118.75 L342.45,118.68 L342.71,118.61 L342.97,118.54 L343.23,118.47 L343.48,118.40 L343.74,118.34 L344.78,118.07 L345.82,117.80 L346.85,117.53 L347.89,117.27 L348.92,117.00 L349.96,116.74 L351.00,116.48 L352.03,116.23 L353.07,115.97 L354.10,115.72 L355.14,115.47 L356.18,115.21 L357.21,114.97 L358.25,114.72 L359.29,114.47 L360.32,114.23 L361.36,113.99 L362.39,113.75 L363.43,113.51 L364.47,113.27 L365.50,113.03 L366.54,112.80 L367.57,112.57 L368.61,112.34 L369.65,112.11 L370.68,111.88 L371.72,111.65 L372.76,111.42 L373.79,111.20 L374.83,110.98 L375.86,110.75 L376.90,110.53 L377.94,110.31 L378.97,110.10 L380.01,109.88 L381.04,109.66 L382.08,109.45 L383.12,109.24 L384.15,109.02 L385.19,108.81 L386.23,108.60 L387.26,108.40 L388.30,108.19 L389.33,107.98 L390.37,107.78 L391.41,107.58 L392.44,107.37 L393.48,107.17 L394.51,106.97 L395.55,106.77 L396.59,106.57 L397.62,106.38 L398.66,106.18 L399.70,105.99 L400.73,105.79 L401.77,105.60 L402.80,105.41 L403.84,105.22 L404.88,105.03 L405.91,104.84 L406.95,104.65 L407.98,104.46 L409.02,104.28 L410.06,104.09 L411.09,103.91 L412.13,103.72 L413.17,103.54 L414.20,103.36 L415.24,103.18 L416.27,103.00 L417.31,102.82 L418.35,102.64 L419.38,102.47 L420.42,102.29 L421.45,102.11 L422.49,101.94 L423.53,101.77 L424.56,101.59 L425.60,101.42 L426.64,101.25 L427.67,101.08 L428.71,100.91 L429.74,100.74 L430.78,100.58 L431.82,100.41 L432.85,100.24 L433.89,100.08 L434.92,99.91 L435.96,99.75 L437.00,99.58 L438.03,99.42 L439.07,99.26 L440.11,99.10 L441.14,98.94 L442.18,98.78 L443.21,98.62 L444.25,98.46 L445.29,98.31 L446.32,98.15 L447.36,97.99 L448.39,97.84 L449.43,97.68 L450.47,97.53 L451.50,97.38 L452.54,97.22 L453.58,97.07 L454.61,96.92 L455.65,96.77 L456.68,96.62 L457.72,96.47 L458.76,96.33 L459.79,96.18 L460.83,96.03 L461.86,95.88 L462.90,95.74 L463.94,95.59 L464.97,95.45 L466.01,95.31 L467.05,95.16 L468.08,95.02 L469.12,94.88 L470.15,94.74 L471.19,94.60 L472.23,94.46 L473.26,94.32 L474.30,94.18 L475.33,94.04 L476.37,93.90 L477.41,93.76 L478.44,93.63 L479.48,93.49 L480.51,93.36 L481.55,93.22 L482.59,93.09 L483.62,92.95 L484.66,92.82 L485.70,92.69 L486.73,92.56 L487.77,92.43 L488.80,92.29 L489.84,92.16 L490.88,92.03 L491.91,91.91 L492.95,91.78 L493.98,91.65 L495.02,91.52 L496.06,91.39 L497.09,91.27 L498.13,91.14 L499.17,91.02 L500.20,90.89 L501.24,90.77 L502.27,90.64 L503.31,90.52 L504.35,90.40 L505.38,90.28 L506.42,90.15 L507.45,90.03 L508.49,89.91 L509.53,89.79 L510.56,89.67 L511.60,89.55 L512.64,89.43 L513.67,89.32 L514.71,89.20 L515.74,89.08 L516.78,88.96 L517.82,88.85 L518.85,88.73 L519.89,88.62 L520.92,88.50 L521.96,88.39 L523.00,88.27 L524.03,88.16 L525.07,88.05 L526.11,87.94 L527.14,87.82 L528.18,87.71 L529.21,87.60 L530.25,87.49 L531.29,87.38 L532.32,87.27 L533.36,87.16 L534.39,87.05 L535.43,86.94 L536.47,86.84 L537.50,86.73 L538.54,86.62 L539.58,86.51 L540.61,86.41 L541.65,86.30 L542.68,86.20 L543.72,86.09 L544.76,85.99 L545.79,85.88 L546.83,85.78 L547.86,85.68 L548.90,85.57 L549.94,85.47 L550.97,85.37 L552.01,85.27 L553.05,85.17 L554.08,85.07 L555.12,84.97 L556.15,84.87 L557.19,84.77 L558.23,84.67 L559.26,84.57 L560.30,84.47 L561.33,84.37 L562.37,84.28 L563.41,84.18 L564.44,84.08 L565.48,83.99 L566.52,83.89 L567.55,83.79 L568.59,83.70 L569.62,83.61 L570.66,83.51 L571.70,83.42 L572.73,83.32 L573.77,83.23 L574.80,83.14 L575.84,83.04 L576.88,82.95 L577.91,82.86 L578.95,82.77 L579.99,82.68 L581.02,82.59 L582.06,82.50 L583.09,82.41 L584.13,82.32 L585.17,82.23 L586.20,82.14 L587.24,82.05 L588.27,81.96 L589.31,81.88 L590.35,81.79 L591.38,81.70 L592.42,81.62 L593.46,81.53 L594.49,81.44 L595.53,81.36 L596.56,81.27 L597.60,81.19 L598.64,81.10 L599.67,81.02 L600.71,80.94 L601.74,80.85 L602.78,80.77 L603.82,80.69 L604.85,80.60 L605.89,80.52 L606.93,80.44 L607.96,80.36 L609.00,80.28 L610.03,80.20 L611.07,80.12 L612.11,80.03 L613.14,79.95 L614.18,79.88 L615.21,79.80 L616.25,79.72 L617.29,79.64 L618.32,79.56 L619.36,79.48 L620.40,79.40 L621.43,79.33 L622.47,79.25 L623.50,79.17 L624.54,79.10 L625.58,79.02 L626.61,78.94 L627.65,78.87 L628.68,78.79 L629.72,78.72 L630.76,78.64 L631.79,78.57 L632.83,78.50 L633.87,78.42 L634.90,78.35 L635.94,78.28 L636.97,78.20 L638.01,78.13 L639.05,78.06 L640.08,77.99 L641.12,77.91 L642.15,77.84 L643.19,77.77 L644.23,77.70 L645.26,77.63 L646.30,77.56 L647.34,77.49 L648.37,77.42 L649.41,77.35 L650.44,77.28 L651.48,77.21 L652.52,77.15 L653.55,77.08" stroke="#0000ff" stroke-width="2.10" stroke-dasharray="12.37 5.882" stroke-dashoffset="0"/>
<path d="M87.80,94.19 L88.02,99.70 L88.25,105.12 L88.47,110.46 L88.70,115.72 L88.92,120.91 L89.14,126.01 L89.37,131.04 L89.59,135.99 L89.81,140.87 L90.04,145.68 L90.26,150.41 L90.48,155.08 L90.70,159.67 L90.93,164.19 L91.15,168.64 L91.37,173.03 L91.59,177.35 L91.81,181.60 L92.03,185.79 L92.25,189.92 L92.48,193.98 L92.70,197.98 L92.92,201.92 L93.14,205.79 L93.36,209.61 L93.58,213.37 L93.80,217.07 L94.02,220.72 L94.23,224.30 L94.45,227.83 L94.67,231.31 L94.89,234.73 L95.11,238.10 L95.33,241.41 L95.55,244.67 L95.76,247.89 L95.98,251.05 L96.20,254.16 L96.42,257.22 L96.63,260.23 L96.85,263.19 L97.07,266.11 L97.28,268.98 L97.50,271.80 L97.72,274.58 L97.93,277.31 L98.15,280.00 L98.37,282.65 L98.58,285.25 L98.80,287.81 L99.01,290.33 L99.23,292.80 L99.44,295.24 L99.66,297.63 L99.87,299.99 L100.08,302.31 L100.30,304.58 L100.51,306.82 L100.73,309.02 L100.94,311.19 L101.15,313.32 L101.37,315.41 L101.58,317.47 L101.79,319.49 L102.01,321.47 L102.22,323.43 L102.43,325.34 L102.64,327.23 L102.85,329.08 L103.07,330.90 L103.28,332.69 L103.49,334.45 L103.70,336.17 L103.91,337.87 L104.12,339.53 L104.33,341.17 L104.55,342.78 L104.76,344.35 L104.97,345.90 L105.18,347.42 L105.39,348.91 L105.60,350.38 L105.81,351.82 L106.01,353.23 L106.22,354.61 L106.43,355.97 L106.64,357.31 L106.85,358.61 L107.06,359.90 L107.27,361.16 L107.48,362.39 L107.68,363.60 L107.89,364.79 L108.10,365.95 L108.31,367.09 L108.52,368.21 L108.72,369.31 L108.93,370.38 L109.14,371.43 L109.34,372.46 L109.55,373.47 L109.76,374.46 L109.96,375.43 L110.17,376.38 L110.37,377.31 L110.58,378.22 L110.79,379.11 L110.99,379.98 L111.20,380.83 L111.40,381.66 L111.61,382.47 L111.81,383.27 L112.02,384.05 L112.22,384.81 L112.43,385.55 L112.63,386.28 L112.83,386.99 L113.04,387.68 L113.24,388.36 L113.44,389.02 L113.65,389.66 L113.85,390.29 L114.05,390.91 L114.26,391.51 L114.46,392.09 L114.66,392.66 L114.86,393.21 L115.07,393.75 L115.27,394.28 L115.47,394.79 L115.67,395.28 L115.87,395.77 L116.08,396.24 L116.28,396.70 L116.48,397.14 L116.68,397.57 L116.88,397.99 L117.08,398.39 L117.28,398.79 L117.48,399.17 L117.68,399.54 L117.88,399.90 L118.08,400.24 L118.28,400.58 L118.48,400.90 L118.68,401.21 L118.88,401.52 L119.08,401.81 L119.28,402.09 L119.48,402.36 L119.68,402.62 L119.87,402.86 L120.07,403.10 L120.27,403.33 L120.47,403.55 L120.67,403.76 L120.86,403.96 L121.06,404.15 L121.26,404.33 L121.46,404.51 L121.65,404.67 L121.85,404.83 L122.05,404.97 L122.24,405.11 L122.44,405.24 L122.64,405.36 L122.83,405.47 L123.03,405.58 L123.23,405.68 L123.42,405.77 L123.62,405.85 L123.81,405.92 L124.01,405.99 L124.20,406.05 L124.40,406.10 L124.59,406.15 L124.79,406.18 L124.98,406.21 L125.18,406.24 L125.37,406.26 L125.56,406.27 L125.76,406.27 L125.95,406.27 L126.15,406.26 L126.34,406.25 L126.53,406.23 L126.73,406.20 L126.92,406.17 L127.11,406.13 L127.31,406.09 L127.50,406.04 L127.69,405.99 L127.88,405.93 L128.08,405.86 L128.27,405.79 L128.46,405.71 L128.65,405.63 L128.84,405.55 L129.04,405.46 L129.23,405.36 L129.42,405.26 L129.61,405.15 L129.80,405.04 L129.99,404.93 L130.18,404.81 L130.37,404.69 L130.56,404.56 L130.75,404.43 L130.94,404.29 L131.13,404.15 L131.32,404.01 L131.51,403.86 L131.70,403.71 L131.89,403.55 L132.08,403.39 L132.27,403.23 L132.46,403.06 L132.65,402.89 L132.84,402.72 L133.03,402.54 L133.21,402.36 L133.40,402.17 L133.59,401.99 L133.78,401.80 L133.97,401.60 L134.16,401.41 L134.34,401.21 L134.53,401.00 L134.72,400.80 L134.91,400.59 L135.09,400.38 L135.28,400.16 L135.47,399.94 L135.65,399.72 L135.84,399.50 L136.03,399.28 L136.21,399.05 L136.40,398.82 L136.58,398.58 L136.77,398.35 L136.96,398.11 L137.14,397.87 L137.33,397.63 L137.51,397.39 L137.70,397.14 L137.88,396.89 L138.07,396.64 L138.25,396.39 L138.44,396.13 L138.62,395.88 L138.81,395.62 L138.99,395.36 L139.18,395.10 L139.36,394.83 L139.54,394.57 L139.73,394.30 L139.91,394.03 L140.09,393.76 L140.28,393.49 L140.46,393.21 L140.64,392.94 L140.83,392.66 L141.01,392.38 L141.19,392.10 L141.38,391.82 L141.56,391.54 L141.74,391.25 L141.92,390.97 L142.11,390.68 L142.29,390.40 L142.47,390.11 L142.65,389.82 L142.83,389.52 L143.01,389.23 L143.20,388.94 L143.38,388.64 L143.56,388.35 L143.74,388.05 L143.92,387.75 L144.10,387.45 L144.28,387.15 L144.46,386.85 L144.64,386.55 L144.82,386.25 L145.00,385.95 L145.18,385.64 L145.36,385.34 L145.54,385.03 L145.72,384.73 L145.90,384.42 L146.08,384.11 L146.26,383.80 L146.44,383.50 L146.62,383.19 L146.80,382.88 L146.97,382.57 L147.15,382.25 L147.33,381.94 L147.51,381.63 L147.69,381.32 L147.87,381.00 L148.04,380.69 L148.22,380.38 L148.40,380.06 L148.58,379.75 L148.76,379.43 L148.93,379.12 L149.11,378.80 L149.29,378.48 L149.46,378.17 L149.64,377.85 L149.82,377.53 L149.99,377.22 L150.17,376.90 L150.35,376.58 L150.52,376.26 L150.70,375.94 L150.88,375.63 L151.05,375.31 L151.23,374.99 L151.40,374.67 L151.58,374.35 L151.75,374.03 L151.93,373.71 L152.10,373.39 L152.28,373.07 L152.45,372.75 L152.63,372.43 L152.80,372.12 L152.98,371.80 L153.15,371.48 L153.33,371.16 L153.50,370.84 L153.68,370.52 L153.85,370.20 L154.02,369.88 L154.20,369.56 L154.37,369.24 L154.55,368.92 L154.72,368.60 L154.89,368.29 L155.06,367.97 L155.24,367.65 L155.41,367.33 L155.58,367.01 L155.76,366.69 L155.93,366.38 L156.10,366.06 L156.27,365.74 L156.45,365.42 L156.62,365.11 L156.79,364.79 L156.96,364.47 L157.13,364.16 L157.31,363.84 L157.48,363.53 L157.65,363.21 L157.82,362.90 L157.99,362.58 L158.16,362.27 L158.33,361.95 L158.51,361.64 L158.68,361.33 L158.85,361.01 L159.02,360.70 L159.19,360.39 L159.36,360.08 L159.53,359.76 L159.70,359.45 L159.87,359.14 L160.04,358.83 L160.21,358.52 L160.38,358.21 L160.55,357.90 L160.72,357.59 L160.89,357.28 L161.06,356.98 L161.22,356.67 L161.39,356.36 L161.56,356.05 L161.73,355.75 L161.90,355.44 L162.07,355.14 L162.24,354.83 L162.41,354.53 L162.57,354.22 L162.74,353.92 L162.91,353.61 L163.08,353.31 L163.25,353.01 L163.41,352.71 L163.58,352.41 L163.75,352.10 L163.92,351.80 L164.08,351.50 L164.25,351.21 L164.42,350.91 L164.58,350.61 L164.75,350.31 L165.27,349.39 L165.78,348.47 L166.30,347.56 L166.81,346.66 L167.33,345.76 L167.84,344.87 L168.35,343.98 L168.86,343.10 L169.37,342.22 L169.87,341.35 L170.38,340.48 L170.89,339.63 L171.39,338.77 L171.90,337.93 L172.40,337.08 L172.90,336.25 L173.40,335.42 L173.90,334.60 L174.40,333.78 L174.90,332.97 L175.40,332.17 L175.89,331.37 L176.39,330.58 L176.88,329.79 L177.37,329.01 L177.87,328.24 L178.36,327.47 L178.85,326.71 L179.34,325.95 L179.83,325.20 L180.31,324.46 L180.80,323.73 L181.29,323.00 L181.77,322.27 L182.26,321.55 L182.74,320.84 L183.22,320.14 L183.70,319.44 L184.18,318.74 L184.66,318.05 L185.14,317.37 L185.62,316.70 L186.10,316.03 L186.57,315.36 L187.05,314.70 L187.52,314.05 L187.99,313.40 L188.47,312.76 L188.94,312.13 L189.41,311.50 L189.88,310.87 L190.35,310.25 L190.82,309.64 L191.28,309.03 L191.75,308.43 L192.22,307.84 L192.68,307.25 L193.15,306.66 L193.61,306.08 L194.07,305.50 L194.53,304.93 L194.99,304.37 L195.45,303.81 L195.91,303.26 L196.37,302.71 L196.83,302.16 L197.28,301.63 L197.74,301.09 L198.20,300.56 L198.65,300.04 L199.10,299.52 L199.56,299.01 L200.01,298.50 L200.46,297.99 L200.91,297.49 L201.36,297.00 L201.81,296.50 L202.26,296.02 L202.70,295.54 L203.15,295.06 L203.59,294.59 L204.04,294.12 L204.48,293.66 L204.93,293.20 L205.37,292.74 L205.81,292.29 L206.25,291.84 L206.69,291.40 L207.13,290.96 L207.57,290.53 L208.01,290.10 L208.45,289.67 L208.88,289.25 L209.32,288.83 L209.75,288.42 L210.19,288.01 L210.62,287.60 L211.05,287.20 L211.49,286.80 L211.92,286.40 L212.35,286.01 L212.78,285.62 L213.21,285.24 L213.64,284.86 L214.06,284.48 L214.49,284.11 L214.92,283.74 L215.34,283.37 L215.77,283.01 L216.19,282.65 L216.62,282.29 L217.04,281.94 L217.46,281.59 L217.88,281.24 L218.31,280.90 L218.73,280.56 L219.14,280.22 L219.56,279.89 L219.98,279.56 L220.40,279.23 L220.82,278.91 L221.23,278.59 L221.65,278.27 L222.06,277.95 L222.48,277.64 L222.89,277.33 L223.30,277.02 L223.72,276.72 L224.13,276.42 L224.54,276.12 L224.95,275.82 L225.36,275.53 L225.77,275.24 L226.17,274.95 L226.58,274.67 L226.99,274.38 L227.40,274.10 L227.80,273.83 L228.21,273.55 L228.61,273.28 L229.01,273.01 L229.42,272.74 L229.82,272.48 L230.22,272.21 L230.62,271.95 L231.02,271.70 L231.42,271.44 L231.82,271.19 L232.22,270.94 L232.62,270.69 L233.02,270.44 L233.42,270.20 L233.81,269.96 L234.21,269.72 L234.60,269.48 L235.00,269.24 L235.39,269.01 L235.78,268.78 L236.18,268.55 L236.57,268.32 L236.96,268.10 L237.35,267.87 L237.74,267.65 L238.13,267.43 L238.52,267.21 L238.91,267.00 L239.30,266.79 L239.69,266.57 L240.07,266.36 L240.46,266.16 L240.84,265.95 L241.23,265.74 L241.61,265.54 L242.00,265.34 L242.38,265.14 L242.76,264.94 L243.15,264.75 L243.53,264.55 L243.91,264.36 L244.29,264.17 L244.67,263.98 L245.05,263.80 L245.43,263.61 L245.81,263.43 L246.18,263.24 L246.56,263.06 L246.94,262.88 L247.31,262.70 L247.69,262.53 L248.07,262.35 L248.44,262.18 L248.81,262.01 L249.19,261.84 L249.56,261.67 L249.93,261.50 L250.30,261.33 L250.68,261.17 L251.05,261.01 L251.42,260.84 L251.79,260.68 L252.16,260.52 L252.52,260.37 L252.89,260.21 L253.26,260.05 L253.63,259.90 L253.99,259.75 L254.36,259.59 L254.72,259.44 L255.09,259.29 L255.45,259.15 L255.82,259.00 L256.18,258.85 L256.54,258.71 L256.91,258.57 L257.27,258.42 L257.63,258.28 L257.99,258.14 L258.35,258.01 L258.71,257.87 L259.07,257.73 L259.43,257.60 L259.79,257.46 L260.15,257.33 L260.50,257.20 L260.86,257.07 L261.22,256.94 L261.57,256.81 L261.93,256.68 L262.28,256.55 L262.64,256.43 L262.99,256.30 L263.35,256.18 L263.70,256.06 L264.05,255.93 L264.40,255.81 L264.75,255.69 L265.11,255.57 L265.46,255.46 L265.81,255.34 L266.16,255.22 L266.51,255.11 L266.85,254.99 L267.20,254.88 L267.55,254.77 L267.90,254.65 L268.24,254.54 L268.59,254.43 L268.94,254.32 L269.28,254.21 L269.63,254.11 L269.97,254.00 L270.32,253.89 L270.66,253.79 L271.00,253.68 L271.35,253.58 L271.69,253.48 L272.03,253.38 L272.37,253.28 L272.71,253.17 L273.05,253.07 L273.39,252.98 L273.73,252.88 L274.07,252.78 L274.41,252.68 L274.75,252.59 L275.09,252.49 L275.42,252.40 L275.76,252.30 L276.10,252.21 L276.43,252.12 L276.77,252.02 L277.10,251.93 L277.44,251.84 L277.77,251.75 L278.11,251.66 L278.44,251.58 L278.77,251.49 L279.10,251.40 L279.44,251.31 L279.77,251.23 L280.10,251.14 L280.43,251.06 L280.76,250.97 L281.09,250.89 L281.42,250.81 L281.75,250.72 L282.08,250.64 L282.41,250.56 L282.73,250.48 L283.06,250.40 L283.39,250.32 L283.72,250.24 L284.04,250.16 L284.37,250.08 L284.69,250.01 L285.02,249.93 L285.34,249.85 L285.67,249.78 L285.99,249.70 L286.31,249.63 L286.64,249.55 L286.96,249.48 L287.28,249.41 L287.60,249.33 L287.93,249.26 L288.25,249.19 L288.57,249.12 L288.89,249.05 L289.21,248.98 L289.53,248.91 L289.85,248.84 L290.16,248.77 L290.48,248.70 L290.80,248.63 L291.12,248.57 L291.43,248.50 L291.75,248.43 L292.07,248.37 L292.38,248.30 L292.70,248.23 L293.01,248.17 L293.33,248.11 L293.64,248.04 L293.96,247.98 L294.27,247.91 L294.58,247.85 L294.90,247.79 L295.21,247.73 L295.52,247.67 L295.83,247.60 L296.14,247.54 L296.45,247.48 L296.77,247.42 L297.08,247.36 L297.39,247.31 L297.69,247.25 L298.00,247.19 L298.31,247.13 L298.62,247.07 L298.93,247.01 L299.24,246.96 L299.54,246.90 L299.85,246.84 L300.16,246.79 L300.46,246.73 L300.77,246.68 L301.07,246.62 L301.38,246.57 L301.68,246.51 L301.99,246.46 L302.29,246.41 L302.60,246.35 L302.90,246.30 L303.20,246.25 L303.50,246.20 L303.81,246.14 L304.11,246.09 L304.41,246.04 L304.71,245.99 L305.01,245.94 L305.31,245.89 L305.61,245.84 L305.91,245.79 L306.21,245.74 L306.51,245.69 L306.81,245.64 L307.11,245.59 L307.41,245.55 L307.70,245.50 L308.00,245.45 L308.30,245.40 L308.59,245.36 L308.89,245.31 L309.19,245.26 L309.48,245.22 L309.78,245.17 L310.07,245.13 L310.37,245.08 L310.66,245.03 L310.96,244.99 L311.25,244.94 L311.54,244.90 L311.84,244.86 L312.13,244.81 L312.42,244.77 L312.71,244.73 L313.00,244.68 L313.30,244.64 L313.59,244.60 L313.88,244.55 L314.17,244.51 L314.46,244.47 L314.75,244.43 L315.04,244.39 L315.33,244.35 L315.61,244.30 L315.90,244.26 L316.19,244.22 L316.48,244.18 L316.77,244.14 L317.05,244.10 L317.34,244.06 L317.63,244.02 L317.91,243.98 L318.20,243.95 L318.48,243.91 L318.77,243.87 L319.05,243.83 L319.34,243.79 L319.62,243.75 L319.91,243.72 L320.19,243.68 L320.47,243.64 L320.76,243.60 L321.04,243.57 L321.32,243.53 L321.60,243.49 L321.88,243.46 L322.17,243.42 L322.45,243.39 L322.73,243.35 L323.01,243.31 L323.29,243.28 L323.57,243.24 L323.85,243.21 L324.13,243.17 L324.41,243.14 L324.69,243.10 L324.96,243.07 L325.24,243.04 L325.52,243.00 L325.80,242.97 L326.07,242.93 L326.35,242.90 L326.63,242.87 L326.90,242.83 L327.18,242.80 L327.46,242.77 L327.73,242.74 L328.01,242.70 L328.28,242.67 L328.56,242.64 L328.83,242.61 L329.10,242.58 L329.38,242.54 L329.65,242.51 L329.93,242.48 L330.20,242.45 L330.47,242.42 L330.74,242.39 L331.01,242.36 L331.29,242.33 L331.56,242.30 L331.83,242.27 L332.10,242.24 L332.37,242.21 L332.64,242.18 L332.91,242.15 L333.18,242.12 L333.45,242.09 L333.72,242.06 L333.99,242.03 L334.26,242.00 L334.52,241.97 L334.79,241.94 L335.06,241.92 L335.33,241.89 L335.59,241.86 L335.86,241.83 L336.13,241.80 L336.39,241.78 L336.66,241.75 L336.93,241.72 L337.19,241.69 L337.46,241.67 L337.72,241.64 L337.99,241.61 L338.25,241.58 L338.52,241.56 L338.78,241.53 L339.04,241.50 L339.31,241.48 L339.57,241.45 L339.83,241.43 L340.10,241.40 L340.36,241.37 L340.62,241.35 L340.88,241.32 L341.14,241.30 L341.40,241.27 L341.66,241.25 L341.93,241.22 L342.19,241.19 L342.45,241.17 L342.71,241.14 L342.97,241.12 L343.23,241.10 L343.48,241.07 L343.74,241.05 L344.78,240.95 L345.82,240.85 L346.85,240.76 L347.89,240.67 L348.92,240.57 L349.96,240.48 L351.00,240.39 L352.03,240.30 L353.07,240.22 L354.10,240.13 L355.14,240.05 L356.18,239.96 L357.21,239.88 L358.25,239.80 L359.29,239.72 L360.32,239.64 L361.36,239.56 L362.39,239.48 L363.43,239.40 L364.47,239.33 L365.50,239.25 L366.54,239.18 L367.57,239.10 L368.61,239.03 L369.65,238.96 L370.68,238.89 L371.72,238.82 L372.76,238.75 L373.79,238.68 L374.83,238.61 L375.86,238.55 L376.90,238.48 L377.94,238.42 L378.97,238.35 L380.01,238.29 L381.04,238.22 L382.08,238.16 L383.12,238.10 L384.15,238.04 L385.19,237.98 L386.23,237.92 L387.26,237.86 L388.30,237.80 L389.33,237.74 L390.37,237.68 L391.41,237.62 L392.44,237.57 L393.48,237.51 L394.51,237.46 L395.55,237.40 L396.59,237.35 L397.62,237.29 L398.66,237.24 L399.70,237.19 L400.73,237.13 L401.77,237.08 L402.80,237.03 L403.84,236.98 L404.88,236.93 L405.91,236.88 L406.95,236.83 L407.98,236.78 L409.02,236.73 L410.06,236.68 L411.09,236.64 L412.13,236.59 L413.17,236.54 L414.20,236.49 L415.24,236.45 L416.27,236.40 L417.31,236.36 L418.35,236.31 L419.38,236.27 L420.42,236.22 L421.45,236.18 L422.49,236.13 L423.53,236.09 L424.56,236.05 L425.60,236.01 L426.64,235.96 L427.67,235.92 L428.71,235.88 L429.74,235.84 L430.78,235.80 L431.82,235.76 L432.85,235.72 L433.89,235.68 L434.92,235.64 L435.96,235.60 L437.00,235.56 L438.03,235.52 L439.07,235.48 L440.11,235.44 L441.14,235.40 L442.18,235.36 L443.21,235.33 L444.25,235.29 L445.29,235.25 L446.32,235.21 L447.36,235.18 L448.39,235.14 L449.43,235.11 L450.47,235.07 L451.50,235.03 L452.54,235.00 L453.58,234.96 L454.61,234.93 L455.65,234.89 L456.68,234.86 L457.72,234.83 L458.76,234.79 L459.79,234.76 L460.83,234.72 L461.86,234.69 L462.90,234.66 L463.94,234.62 L464.97,234.59 L466.01,234.56 L467.05,234.53 L468.08,234.49 L469.12,234.46 L470.15,234.43 L471.19,234.40 L472.23,234.37 L473.26,234.34 L474.30,234.31 L475.33,234.27 L476.37,234.24 L477.41,234.21 L478.44,234.18 L479.48,234.15 L480.51,234.12 L481.55,234.09 L482.59,234.06 L483.62,234.03 L484.66,234.00 L485.70,233.98 L486.73,233.95 L487.77,233.92 L488.80,233.89 L489.84,233.86 L490.88,233.83 L491.91,233.80 L492.95,233.78 L493.98,233.75 L495.02,233.72 L496.06,233.69 L497.09,233.67 L498.13,233.64 L499.17,233.61 L500.20,233.59 L501.24,233.56 L502.27,233.53 L503.31,233.51 L504.35,233.48 L505.38,233.45 L506.42,233.43 L507.45,233.40 L508.49,233.38 L509.53,233.35 L510.56,233.32 L511.60,233.30 L512.64,233.27 L513.67,233.25 L514.71,233.22 L515.74,233.20 L516.78,233.17 L517.82,233.15 L518.85,233.12 L519.89,233.10 L520.92,233.08 L521.96,233.05 L523.00,233.03 L524.03,233.00 L525.07,232.98 L526.11,232.96 L527.14,232.93 L528.18,232.91 L529.21,232.89 L530.25,232.86 L531.29,232.84 L532.32,232.82 L533.36,232.79 L534.39,232.77 L535.43,232.75 L536.47,232.73 L537.50,232.70 L538.54,232.68 L539.58,232.66 L540.61,232.64 L541.65,232.62 L542.68,232.59 L543.72,232.57 L544.76,232.55 L545.79,232.53 L546.83,232.51 L547.86,232.49 L548.90,232.47 L549.94,232.44 L550.97,232.42 L552.01,232.40 L553.05,232.38 L554.08,232.36 L555.12,232.34 L556.15,232.32 L557.19,232.30 L558.23,232.28 L559.26,232.26 L560.30,232.24 L561.33,232.22 L562.37,232.20 L563.41,232.18 L564.44,232.16 L565.48,232.14 L566.52,232.12 L567.55,232.10 L568.59,232.08 L569.62,232.06 L570.66,232.04 L571.70,232.02 L572.73,232.00 L573.77,231.98 L574.80,231.97 L575.84,231.95 L576.88,231.93 L577.91,231.91 L578.95,231.89 L579.99,231.87 L581.02,231.85 L582.06,231.84 L583.09,231.82 L584.13,231.80 L585.17,231.78 L586.20,231.76 L587.24,231.75 L588.27,231.73 L589.31,231.71 L590.35,231.69 L591.38,231.68 L592.42,231.66 L593.46,231.64 L594.49,231.62 L595.53,231.61 L596.56,231.59 L597.60,231.57 L598.64,231.56 L599.67,231.54 L600.71,231.52 L601.74,231.50 L602.78,231.49 L603.82,231.47 L604.85,231.45 L605.89,231.44 L606.93,231.42 L607.96,231.41 L609.00,231.39 L610.03,231.37 L611.07,231.36 L612.11,231.34 L613.14,231.33 L614.18,231.31 L615.21,231.29 L616.25,231.28 L617.29,231.26 L618.32,231.25 L619.36,231.23 L620.40,231.22 L621.43,231.20 L622.47,231.18 L623.50,231.17 L624.54,231.15 L625.58,231.14 L626.61,231.12 L627.65,231.11 L628.68,231.09 L629.72,231.08 L630.76,231.06 L631.79,231.05 L632.83,231.04 L633.87,231.02 L634.90,231.01 L635.94,230.99 L636.97,230.98 L638.01,230.96 L639.05,230.95 L640.08,230.93 L641.12,230.92 L642.15,230.91 L643.19,230.89 L644.23,230.88 L645.26,230.86 L646.30,230.85 L647.34,230.84 L648.37,230.82 L649.41,230.81 L650.44,230.80 L651.48,230.78 L652.52,230.77 L653.55,230.75" stroke="#000" stroke-width="2.10"/>
<path d="M218.37,176.98 L219.10,176.12 L219.83,175.27 L220.55,174.44 L221.27,173.61 L221.99,172.81 L222.71,172.01 L223.43,171.23 L224.14,170.47 L224.86,169.72 L225.57,168.98 L226.28,168.25 L226.98,167.55 L227.69,166.85 L228.39,166.17 L229.09,165.50 L229.79,164.84 L230.49,164.19 L231.19,163.55 L231.88,162.92 L232.57,162.30 L233.26,161.69 L233.95,161.08 L234.63,160.48 L235.32,159.89 L236.00,159.30 L236.68,158.73 L237.36,158.15 L238.04,157.59 L238.71,157.03 L239.39,156.48 L240.06,155.94 L240.73,155.40 L241.40,154.87 L242.07,154.35 L242.73,153.83 L243.39,153.32 L244.06,152.82 L244.72,152.33 L245.37,151.85 L246.03,151.37 L246.69,150.90 L247.34,150.44 L247.99,149.99 L248.64,149.54 L249.29,149.10 L249.94,148.67 L250.58,148.25 L251.22,147.84 L251.87,147.44 L252.51,147.04 L253.15,146.65 L253.78,146.26 L254.42,145.89 L255.05,145.52 L255.68,145.16 L256.32,144.80 L256.95,144.46 L257.57,144.11 L258.20,143.78 L258.82,143.45 L259.45,143.13 L260.07,142.81 L260.69,142.50 L261.31,142.20 L261.93,141.90 L262.54,141.61 L263.16,141.32 L263.77,141.04 L264.38,140.76 L264.99,140.49 L265.60,140.23 L266.21,139.97 L266.81,139.71 L267.42,139.46 L268.02,139.21 L268.62,138.97 L269.22,138.73 L269.82,138.49 L270.42,138.26 L271.01,138.03 L271.61,137.81 L272.20,137.59 L272.79,137.37 L273.38,137.16 L273.97,136.95 L274.56,136.74 L275.15,136.53 L275.73,136.33 L276.32,136.13 L276.90,135.93 L277.48,135.73 L278.06,135.54 L278.64,135.35 L279.22,135.16 L279.79,134.97 L280.37,134.78 L280.94,134.60 L281.51,134.42 L282.08,134.24 L282.65,134.06 L283.22,133.88 L283.79,133.71 L284.36,133.53 L284.92,133.36 L285.48,133.19 L286.05,133.02 L286.61,132.85 L287.17,132.68 L287.73,132.52 L288.28,132.36 L288.84,132.19 L289.39,132.03 L289.95,131.87 L290.50,131.71 L291.05,131.55 L291.60,131.40 L292.15,131.24 L292.70,131.08 L293.25,130.93 L293.79,130.78 L294.34,130.62 L294.88,130.47 L295.42,130.32 L295.96,130.17 L296.50,130.02 L297.04,129.88 L297.58,129.73 L298.12,129.58 L298.65,129.44 L299.19,129.29 L299.72,129.15 L300.25,129.00 L300.78,128.86 L301.31,128.72 L301.84,128.57 L302.37,128.43 L302.89,128.29 L303.42,128.15 L303.94,128.01 L304.47,127.88 L304.99,127.74 L305.51,127.60 L306.03,127.46 L306.55,127.33 L307.07,127.20 L307.59,127.06 L308.10,126.93 L308.62,126.80 L309.13,126.67 L309.65,126.54 L310.16,126.41 L310.67,126.28 L311.18,126.15 L311.69,126.03 L312.20,125.90 L312.70,125.78 L313.21,125.65 L313.71,125.53 L314.22,125.41 L314.72,125.29 L315.22,125.17 L315.72,125.05 L316.23,124.94 L316.72,124.82 L317.22,124.71 L317.72,124.59 L318.22,124.48 L318.71,124.37 L319.21,124.26 L319.70,124.15 L320.19,124.04 L320.68,123.94 L321.17,123.83 L321.66,123.73 L322.15,123.63 L322.64,123.52 L323.13,123.42 L323.61,123.32 L324.10,123.23 L324.58,123.13 L325.07,123.03 L325.55,122.94 L326.03,122.84 L326.51,122.74 L326.99,122.64 L327.47,122.55 L327.95,122.45 L328.42,122.35 L328.90,122.24 L329.38,122.14 L329.85,122.03 L330.32,121.93 L330.80,121.82 L331.27,121.70 L331.74,121.59 L332.21,121.47 L332.68,121.35 L333.15,121.22 L333.62,121.09" stroke="#000" stroke-width="1.3"/>
<path d="M218.37,193.57 L219.10,192.54 L219.83,191.52 L220.55,190.53 L221.27,189.56 L221.99,188.61 L222.71,187.68 L223.43,186.76 L224.14,185.86 L224.86,184.97 L225.57,184.09 L226.28,183.23 L226.98,182.37 L227.69,181.52 L228.39,180.69 L229.09,179.86 L229.79,179.04 L230.49,178.24 L231.19,177.45 L231.88,176.68 L232.57,175.91 L233.26,175.17 L233.95,174.44 L234.63,173.72 L235.32,173.02 L236.00,172.34 L236.68,171.67 L237.36,171.02 L238.04,170.38 L238.71,169.75 L239.39,169.14 L240.06,168.54 L240.73,167.96 L241.40,167.38 L242.07,166.82 L242.73,166.27 L243.39,165.73 L244.06,165.20 L244.72,164.68 L245.37,164.17 L246.03,163.67 L246.69,163.18 L247.34,162.69 L247.99,162.22 L248.64,161.75 L249.29,161.29 L249.94,160.83 L250.58,160.39 L251.22,159.95 L251.87,159.51 L252.51,159.09 L253.15,158.67 L253.78,158.26 L254.42,157.86 L255.05,157.46 L255.68,157.07 L256.32,156.69 L256.95,156.31 L257.57,155.95 L258.20,155.59 L258.82,155.23 L259.45,154.89 L260.07,154.55 L260.69,154.22 L261.31,153.90 L261.93,153.58 L262.54,153.27 L263.16,152.97 L263.77,152.68 L264.38,152.40 L264.99,152.12 L265.60,151.85 L266.21,151.58 L266.81,151.32 L267.42,151.07 L268.02,150.82 L268.62,150.58 L269.22,150.34 L269.82,150.10 L270.42,149.87 L271.01,149.65 L271.61,149.42 L272.20,149.20 L272.79,148.99 L273.38,148.77 L273.97,148.56 L274.56,148.35 L275.15,148.14 L275.73,147.93 L276.32,147.73 L276.90,147.52 L277.48,147.32 L278.06,147.12 L278.64,146.91 L279.22,146.71 L279.79,146.51 L280.37,146.32 L280.94,146.12 L281.51,145.93 L282.08,145.73 L282.65,145.54 L283.22,145.35 L283.79,145.17 L284.36,144.98 L284.92,144.80 L285.48,144.62 L286.05,144.44 L286.61,144.27 L287.17,144.09 L287.73,143.92 L288.28,143.75 L288.84,143.59 L289.39,143.43 L289.95,143.27 L290.50,143.11 L291.05,142.96 L291.60,142.80 L292.15,142.66 L292.70,142.51 L293.25,142.36 L293.79,142.22 L294.34,142.08 L294.88,141.94 L295.42,141.81 L295.96,141.67 L296.50,141.54 L297.04,141.41 L297.58,141.28 L298.12,141.15 L298.65,141.03 L299.19,140.91 L299.72,140.78 L300.25,140.66 L300.78,140.54 L301.31,140.42 L301.84,140.31 L302.37,140.19 L302.89,140.08 L303.42,139.97 L303.94,139.86 L304.47,139.75 L304.99,139.64 L305.51,139.53 L306.03,139.43 L306.55,139.32 L307.07,139.22 L307.59,139.12 L308.10,139.02 L308.62,138.92 L309.13,138.83 L309.65,138.73 L310.16,138.64 L310.67,138.55 L311.18,138.46 L311.69,138.37 L312.20,138.29 L312.70,138.20 L313.21,138.12 L313.71,138.04 L314.22,137.96 L314.72,137.88 L315.22,137.81 L315.72,137.73 L316.23,137.66 L316.72,137.59 L317.22,137.52 L317.72,137.45 L318.22,137.38 L318.71,137.31 L319.21,137.25 L319.70,137.18 L320.19,137.12 L320.68,137.06 L321.17,137.00 L321.66,136.94 L322.15,136.88 L322.64,136.82 L323.13,136.76 L323.61,136.70 L324.10,136.65 L324.58,136.59 L325.07,136.54 L325.55,136.48 L326.03,136.43 L326.51,136.38 L326.99,136.33 L327.47,136.28 L327.95,136.23 L328.42,136.18 L328.90,136.13 L329.38,136.09 L329.85,136.05 L330.32,136.00 L330.80,135.96 L331.27,135.92 L331.74,135.88 L332.21,135.84 L332.68,135.81 L333.15,135.77 L333.62,135.74" stroke="#000" stroke-width="1.3"/>
<rect x="219" y="122.5" width="111" height="71.5" stroke="#000" stroke-width="1"/>
</g>
<g stroke="#000" fill="none">
<rect x="85.00" y="1.50" width="607.00" height="425.00" stroke-width="1.15"/>
<path d="M97.00,426.50 v-12.00 M97.00,1.50 v12.00 M275.99,426.50 v-12.00 M275.99,1.50 v12.00 M380.70,426.50 v-6.00 M380.70,1.50 v6.00 M454.98,426.50 v-6.00 M454.98,1.50 v6.00 M512.61,426.50 v-6.00 M512.61,1.50 v6.00 M559.69,426.50 v-6.00 M559.69,1.50 v6.00 M599.50,426.50 v-6.00 M599.50,1.50 v6.00 M633.98,426.50 v-6.00 M633.98,1.50 v6.00 M664.39,426.50 v-6.00 M664.39,1.50 v6.00 M85.00,23.48 h6.00 M692.00,23.48 h-6.00 M85.00,60.10 h12.00 M692.00,60.10 h-12.00 M85.00,96.72 h6.00 M692.00,96.72 h-6.00 M85.00,133.35 h12.00 M692.00,133.35 h-12.00 M85.00,169.97 h6.00 M692.00,169.97 h-6.00 M85.00,206.60 h12.00 M692.00,206.60 h-12.00 M85.00,243.22 h6.00 M692.00,243.22 h-6.00 M85.00,279.85 h12.00 M692.00,279.85 h-12.00 M85.00,316.48 h6.00 M692.00,316.48 h-6.00 M85.00,353.10 h12.00 M692.00,353.10 h-12.00 M85.00,389.73 h6.00 M692.00,389.73 h-6.00" stroke-width="1.0"/>
</g>
<g font-size="28" fill="#000">
<text x="80.0" y="69.80" text-anchor="end">0.5</text>
<text x="80.0" y="143.05" text-anchor="end">0.0</text>
<text x="80.0" y="216.30" text-anchor="end">-<tspan dx="-1.6">0.5</tspan></text>
<text x="80.0" y="289.55" text-anchor="end">-<tspan dx="-0.5">1.0</tspan></text>
<text x="80.0" y="362.80" text-anchor="end">-<tspan dx="-0.5">1.5</tspan></text>
<text x="80.0" y="436.05" text-anchor="end">-<tspan dx="-1.6">2.0</tspan></text>
<text x="97.60" y="450.6" text-anchor="middle">1</text>
<text x="276.59" y="450.6" text-anchor="middle">2</text>
<text x="693.00" y="450.6" text-anchor="middle">10</text>
</g>
<text x="375" y="468.5" font-size="28" font-style="italic">r</text>
<text x="385.9" y="479.0" font-size="18.5">12</text>
<g transform="translate(20.4,243.2) rotate(-90)">
<text x="0" y="0" font-size="28"><tspan font-style="italic">V</tspan>(<tspan font-style="italic">r</tspan></text>
<text x="33.6" y="10.8" font-size="18">12</text>
<text x="52.5" y="0" font-size="28">)</text>
</g>
<g fill="#0000ff" stroke="#0000ff" stroke-width="0.3" font-size="28">
<text x="427.6" y="65.5">redoxSQE,</text>
<text x="556.3" y="65.5" font-style="italic">n</text>
<text x="570.4" y="75.9" font-size="19.3">1,2</text>
<text x="601" y="67.0">=</text>
<text x="623.5" y="65.5">±1</text>
</g>
<g fill="#ff0000" stroke="#ff0000" stroke-width="0.3" font-size="28">
<text x="377.0" y="162.6">SQE</text>
<text x="436.6" y="162.6">/</text>
<text x="449.8" y="162.6">redoxSQE,</text>
<text x="579.2" y="162.6" font-style="italic">n</text>
<text x="593.2" y="173.5" font-size="19.3">1,2</text>
<text x="623.6" y="164.1">=</text>
<text x="647" y="162.6">0</text>
</g>
<text x="213.4" y="307.2" font-size="28">QE</text>
<rect x="370.90" y="250.60" width="272.70" height="151.50" fill="#fff"/>
<g fill="none" stroke-linejoin="round">
<path d="M370.90,391.36 L371.81,390.05 L372.72,388.75 L373.64,387.46 L374.55,386.19 L375.46,384.93 L376.37,383.67 L377.28,382.43 L378.20,381.21 L379.11,379.99 L380.02,378.78 L380.93,377.59 L381.84,376.40 L382.76,375.23 L383.67,374.07 L384.58,372.92 L385.49,371.78 L386.40,370.65 L387.32,369.53 L388.23,368.42 L389.14,367.32 L390.05,366.23 L390.96,365.15 L391.88,364.08 L392.79,363.02 L393.70,361.97 L394.61,360.93 L395.53,359.90 L396.44,358.88 L397.35,357.88 L398.26,356.88 L399.17,355.88 L400.09,354.90 L401.00,353.93 L401.91,352.97 L402.82,352.02 L403.73,351.08 L404.65,350.14 L405.56,349.22 L406.47,348.30 L407.38,347.40 L408.29,346.50 L409.21,345.61 L410.12,344.74 L411.03,343.87 L411.94,343.01 L412.85,342.15 L413.77,341.31 L414.68,340.48 L415.59,339.65 L416.50,338.84 L417.41,338.03 L418.33,337.23 L419.24,336.44 L420.15,335.66 L421.06,334.89 L421.97,334.12 L422.89,333.37 L423.80,332.62 L424.71,331.88 L425.62,331.15 L426.53,330.43 L427.45,329.71 L428.36,329.01 L429.27,328.31 L430.18,327.62 L431.09,326.94 L432.01,326.26 L432.92,325.60 L433.83,324.94 L434.74,324.29 L435.65,323.64 L436.57,323.01 L437.48,322.38 L438.39,321.76 L439.30,321.15 L440.22,320.54 L441.13,319.94 L442.04,319.35 L442.95,318.77 L443.86,318.19 L444.78,317.62 L445.69,317.06 L446.60,316.50 L447.51,315.95 L448.42,315.41 L449.34,314.87 L450.25,314.34 L451.16,313.82 L452.07,313.30 L452.98,312.79 L453.90,312.29 L454.81,311.79 L455.72,311.30 L456.63,310.81 L457.54,310.33 L458.46,309.85 L459.37,309.38 L460.28,308.92 L461.19,308.46 L462.10,308.01 L463.02,307.56 L463.93,307.11 L464.84,306.67 L465.75,306.24 L466.66,305.81 L467.58,305.38 L468.49,304.96 L469.40,304.53 L470.31,304.12 L471.22,303.70 L472.14,303.29 L473.05,302.88 L473.96,302.47 L474.87,302.07 L475.78,301.66 L476.70,301.26 L477.61,300.87 L478.52,300.47 L479.43,300.08 L480.34,299.69 L481.26,299.30 L482.17,298.92 L483.08,298.54 L483.99,298.16 L484.91,297.78 L485.82,297.40 L486.73,297.03 L487.64,296.66 L488.55,296.29 L489.47,295.93 L490.38,295.56 L491.29,295.20 L492.20,294.84 L493.11,294.48 L494.03,294.13 L494.94,293.78 L495.85,293.42 L496.76,293.08 L497.67,292.73 L498.59,292.38 L499.50,292.04 L500.41,291.70 L501.32,291.36 L502.23,291.03 L503.15,290.69 L504.06,290.36 L504.97,290.03 L505.88,289.70 L506.79,289.37 L507.71,289.05 L508.62,288.72 L509.53,288.40 L510.44,288.08 L511.35,287.76 L512.27,287.45 L513.18,287.13 L514.09,286.82 L515.00,286.51 L515.91,286.20 L516.83,285.89 L517.74,285.59 L518.65,285.28 L519.56,284.98 L520.47,284.68 L521.39,284.38 L522.30,284.08 L523.21,283.79 L524.12,283.49 L525.03,283.20 L525.95,282.91 L526.86,282.62 L527.77,282.33 L528.68,282.05 L529.59,281.76 L530.51,281.48 L531.42,281.19 L532.33,280.91 L533.24,280.64 L534.16,280.36 L535.07,280.08 L535.98,279.81 L536.89,279.53 L537.80,279.26 L538.72,278.99 L539.63,278.72 L540.54,278.45 L541.45,278.19 L542.36,277.92 L543.28,277.66 L544.19,277.39 L545.10,277.13 L546.01,276.87 L546.92,276.61 L547.84,276.36 L548.75,276.10 L549.66,275.85 L550.57,275.59 L551.48,275.34 L552.40,275.09 L553.31,274.84 L554.22,274.59 L555.13,274.34 L556.04,274.10 L556.96,273.85 L557.87,273.61 L558.78,273.36 L559.69,273.12 L560.60,272.88 L561.52,272.64 L562.43,272.40 L563.34,272.17 L564.25,271.93 L565.16,271.70 L566.08,271.46 L566.99,271.23 L567.90,271.00 L568.81,270.77 L569.72,270.54 L570.64,270.31 L571.55,270.08 L572.46,269.85 L573.37,269.63 L574.28,269.40 L575.20,269.18 L576.11,268.96 L577.02,268.74 L577.93,268.52 L578.85,268.30 L579.76,268.08 L580.67,267.86 L581.58,267.64 L582.49,267.43 L583.41,267.21 L584.32,267.00 L585.23,266.78 L586.14,266.57 L587.05,266.36 L587.97,266.15 L588.88,265.94 L589.79,265.73 L590.70,265.53 L591.61,265.32 L592.53,265.11 L593.44,264.91 L594.35,264.70 L595.26,264.50 L596.17,264.30 L597.09,264.10 L598.00,263.90 L598.91,263.70 L599.82,263.50 L600.73,263.30 L601.65,263.10 L602.56,262.90 L603.47,262.71 L604.38,262.51 L605.29,262.32 L606.21,262.13 L607.12,261.93 L608.03,261.74 L608.94,261.55 L609.85,261.36 L610.77,261.17 L611.68,260.98 L612.59,260.79 L613.50,260.61 L614.41,260.42 L615.33,260.23 L616.24,260.05 L617.15,259.86 L618.06,259.68 L618.97,259.50 L619.89,259.31 L620.80,259.13 L621.71,258.95 L622.62,258.77 L623.54,258.59 L624.45,258.41 L625.36,258.23 L626.27,258.06 L627.18,257.88 L628.10,257.70 L629.01,257.53 L629.92,257.35 L630.83,257.18 L631.74,257.00 L632.66,256.83 L633.57,256.66 L634.48,256.49 L635.39,256.32 L636.30,256.15 L637.22,255.98 L638.13,255.81 L639.04,255.64 L639.95,255.47 L640.86,255.30 L641.78,255.14 L642.69,254.97 L643.60,254.80" stroke="#0000ff" stroke-width="2.10" stroke-dasharray="12.37 5.882" stroke-dashoffset="1.41"/>
<path d="M370.90,360.11 L371.81,359.02 L372.72,357.95 L373.64,356.89 L374.55,355.84 L375.46,354.81 L376.37,353.79 L377.28,352.78 L378.20,351.79 L379.11,350.80 L380.02,349.83 L380.93,348.87 L381.84,347.92 L382.76,346.98 L383.67,346.06 L384.58,345.14 L385.49,344.24 L386.40,343.35 L387.32,342.47 L388.23,341.60 L389.14,340.74 L390.05,339.89 L390.96,339.05 L391.88,338.22 L392.79,337.41 L393.70,336.60 L394.61,335.80 L395.53,335.02 L396.44,334.24 L397.35,333.47 L398.26,332.72 L399.17,331.97 L400.09,331.23 L401.00,330.51 L401.91,329.79 L402.82,329.08 L403.73,328.39 L404.65,327.70 L405.56,327.02 L406.47,326.35 L407.38,325.69 L408.29,325.04 L409.21,324.40 L410.12,323.77 L411.03,323.15 L411.94,322.53 L412.85,321.93 L413.77,321.33 L414.68,320.75 L415.59,320.17 L416.50,319.60 L417.41,319.04 L418.33,318.49 L419.24,317.95 L420.15,317.41 L421.06,316.89 L421.97,316.37 L422.89,315.86 L423.80,315.36 L424.71,314.87 L425.62,314.38 L426.53,313.91 L427.45,313.44 L428.36,312.98 L429.27,312.53 L430.18,312.08 L431.09,311.64 L432.01,311.21 L432.92,310.79 L433.83,310.38 L434.74,309.97 L435.65,309.57 L436.57,309.18 L437.48,308.80 L438.39,308.42 L439.30,308.05 L440.22,307.68 L441.13,307.33 L442.04,306.98 L442.95,306.64 L443.86,306.30 L444.78,305.97 L445.69,305.65 L446.60,305.33 L447.51,305.02 L448.42,304.71 L449.34,304.41 L450.25,304.12 L451.16,303.84 L452.07,303.56 L452.98,303.28 L453.90,303.01 L454.81,302.75 L455.72,302.49 L456.63,302.24 L457.54,301.99 L458.46,301.74 L459.37,301.51 L460.28,301.27 L461.19,301.04 L462.10,300.82 L463.02,300.60 L463.93,300.38 L464.84,300.17 L465.75,299.97 L466.66,299.76 L467.58,299.56 L468.49,299.36 L469.40,299.16 L470.31,298.97 L471.22,298.78 L472.14,298.59 L473.05,298.40 L473.96,298.21 L474.87,298.03 L475.78,297.85 L476.70,297.66 L477.61,297.49 L478.52,297.31 L479.43,297.13 L480.34,296.96 L481.26,296.79 L482.17,296.62 L483.08,296.45 L483.99,296.29 L484.91,296.12 L485.82,295.96 L486.73,295.80 L487.64,295.64 L488.55,295.48 L489.47,295.32 L490.38,295.17 L491.29,295.02 L492.20,294.86 L493.11,294.71 L494.03,294.57 L494.94,294.42 L495.85,294.27 L496.76,294.13 L497.67,293.99 L498.59,293.85 L499.50,293.71 L500.41,293.57 L501.32,293.43 L502.23,293.30 L503.15,293.16 L504.06,293.03 L504.97,292.90 L505.88,292.77 L506.79,292.64 L507.71,292.51 L508.62,292.38 L509.53,292.26 L510.44,292.14 L511.35,292.01 L512.27,291.89 L513.18,291.77 L514.09,291.65 L515.00,291.54 L515.91,291.42 L516.83,291.30 L517.74,291.19 L518.65,291.08 L519.56,290.96 L520.47,290.85 L521.39,290.74 L522.30,290.63 L523.21,290.53 L524.12,290.42 L525.03,290.31 L525.95,290.21 L526.86,290.11 L527.77,290.00 L528.68,289.90 L529.59,289.80 L530.51,289.70 L531.42,289.60 L532.33,289.51 L533.24,289.41 L534.16,289.31 L535.07,289.22 L535.98,289.12 L536.89,289.03 L537.80,288.94 L538.72,288.85 L539.63,288.76 L540.54,288.67 L541.45,288.58 L542.36,288.49 L543.28,288.40 L544.19,288.32 L545.10,288.23 L546.01,288.15 L546.92,288.06 L547.84,287.98 L548.75,287.90 L549.66,287.82 L550.57,287.74 L551.48,287.66 L552.40,287.58 L553.31,287.50 L554.22,287.42 L555.13,287.34 L556.04,287.27 L556.96,287.19 L557.87,287.12 L558.78,287.04 L559.69,286.97 L560.60,286.90 L561.52,286.83 L562.43,286.75 L563.34,286.68 L564.25,286.61 L565.16,286.54 L566.08,286.48 L566.99,286.41 L567.90,286.34 L568.81,286.27 L569.72,286.21 L570.64,286.14 L571.55,286.08 L572.46,286.01 L573.37,285.95 L574.28,285.88 L575.20,285.82 L576.11,285.76 L577.02,285.70 L577.93,285.64 L578.85,285.58 L579.76,285.52 L580.67,285.46 L581.58,285.40 L582.49,285.34 L583.41,285.28 L584.32,285.22 L585.23,285.17 L586.14,285.11 L587.05,285.06 L587.97,285.00 L588.88,284.95 L589.79,284.89 L590.70,284.84 L591.61,284.78 L592.53,284.73 L593.44,284.68 L594.35,284.63 L595.26,284.58 L596.17,284.52 L597.09,284.47 L598.00,284.42 L598.91,284.37 L599.82,284.33 L600.73,284.28 L601.65,284.23 L602.56,284.18 L603.47,284.13 L604.38,284.09 L605.29,284.04 L606.21,283.99 L607.12,283.95 L608.03,283.90 L608.94,283.86 L609.85,283.81 L610.77,283.77 L611.68,283.72 L612.59,283.68 L613.50,283.64 L614.41,283.59 L615.33,283.55 L616.24,283.51 L617.15,283.47 L618.06,283.43 L618.97,283.39 L619.89,283.35 L620.80,283.31 L621.71,283.27 L622.62,283.23 L623.54,283.19 L624.45,283.15 L625.36,283.11 L626.27,283.07 L627.18,283.03 L628.10,283.00 L629.01,282.96 L629.92,282.92 L630.83,282.88 L631.74,282.85 L632.66,282.81 L633.57,282.78 L634.48,282.74 L635.39,282.71 L636.30,282.67 L637.22,282.64 L638.13,282.60 L639.04,282.57 L639.95,282.54 L640.86,282.50 L641.78,282.47 L642.69,282.44 L643.60,282.40" stroke="#ff0000" stroke-width="2.10" stroke-dasharray="2.4 4.97 9.64 4.87 2.4 4.976" stroke-dashoffset="1.79"/>
<path d="M370.90,360.11 L371.81,359.02 L372.72,357.95 L373.64,356.88 L374.55,355.83 L375.46,354.79 L376.37,353.77 L377.28,352.75 L378.20,351.75 L379.11,350.75 L380.02,349.77 L380.93,348.80 L381.84,347.85 L382.76,346.90 L383.67,345.97 L384.58,345.04 L385.49,344.13 L386.40,343.24 L387.32,342.35 L388.23,341.47 L389.14,340.61 L390.05,339.75 L390.96,338.91 L391.88,338.08 L392.79,337.25 L393.70,336.44 L394.61,335.63 L395.53,334.83 L396.44,334.04 L397.35,333.25 L398.26,332.48 L399.17,331.71 L400.09,330.94 L401.00,330.18 L401.91,329.43 L402.82,328.69 L403.73,327.94 L404.65,327.21 L405.56,326.48 L406.47,325.75 L407.38,325.03 L408.29,324.32 L409.21,323.61 L410.12,322.91 L411.03,322.22 L411.94,321.53 L412.85,320.84 L413.77,320.16 L414.68,319.49 L415.59,318.83 L416.50,318.17 L417.41,317.51 L418.33,316.86 L419.24,316.22 L420.15,315.59 L421.06,314.96 L421.97,314.34 L422.89,313.72 L423.80,313.11 L424.71,312.50 L425.62,311.91 L426.53,311.32 L427.45,310.73 L428.36,310.16 L429.27,309.58 L430.18,309.02 L431.09,308.46 L432.01,307.91 L432.92,307.37 L433.83,306.83 L434.74,306.30 L435.65,305.78 L436.57,305.26 L437.48,304.75 L438.39,304.25 L439.30,303.75 L440.22,303.26 L441.13,302.77 L442.04,302.29 L442.95,301.82 L443.86,301.35 L444.78,300.89 L445.69,300.44 L446.60,299.99 L447.51,299.54 L448.42,299.10 L449.34,298.67 L450.25,298.24 L451.16,297.82 L452.07,297.40 L452.98,296.99 L453.90,296.59 L454.81,296.19 L455.72,295.79 L456.63,295.40 L457.54,295.01 L458.46,294.63 L459.37,294.26 L460.28,293.89 L461.19,293.52 L462.10,293.16 L463.02,292.80 L463.93,292.45 L464.84,292.10 L465.75,291.76 L466.66,291.42 L467.58,291.08 L468.49,290.75 L469.40,290.42 L470.31,290.10 L471.22,289.78 L472.14,289.47 L473.05,289.15 L473.96,288.85 L474.87,288.54 L475.78,288.24 L476.70,287.94 L477.61,287.65 L478.52,287.36 L479.43,287.07 L480.34,286.78 L481.26,286.50 L482.17,286.22 L483.08,285.94 L483.99,285.67 L484.91,285.40 L485.82,285.13 L486.73,284.86 L487.64,284.60 L488.55,284.34 L489.47,284.08 L490.38,283.82 L491.29,283.57 L492.20,283.32 L493.11,283.06 L494.03,282.82 L494.94,282.57 L495.85,282.32 L496.76,282.08 L497.67,281.84 L498.59,281.60 L499.50,281.36 L500.41,281.12 L501.32,280.89 L502.23,280.66 L503.15,280.42 L504.06,280.19 L504.97,279.97 L505.88,279.74 L506.79,279.51 L507.71,279.29 L508.62,279.07 L509.53,278.85 L510.44,278.63 L511.35,278.41 L512.27,278.19 L513.18,277.97 L514.09,277.76 L515.00,277.55 L515.91,277.33 L516.83,277.12 L517.74,276.91 L518.65,276.70 L519.56,276.50 L520.47,276.29 L521.39,276.08 L522.30,275.88 L523.21,275.68 L524.12,275.47 L525.03,275.27 L525.95,275.07 L526.86,274.87 L527.77,274.67 L528.68,274.47 L529.59,274.28 L530.51,274.08 L531.42,273.88 L532.33,273.69 L533.24,273.50 L534.16,273.30 L535.07,273.11 L535.98,272.92 L536.89,272.73 L537.80,272.54 L538.72,272.35 L539.63,272.16 L540.54,271.97 L541.45,271.78 L542.36,271.60 L543.28,271.41 L544.19,271.23 L545.10,271.04 L546.01,270.86 L546.92,270.68 L547.84,270.49 L548.75,270.31 L549.66,270.13 L550.57,269.95 L551.48,269.77 L552.40,269.59 L553.31,269.41 L554.22,269.23 L555.13,269.05 L556.04,268.87 L556.96,268.70 L557.87,268.52 L558.78,268.34 L559.69,268.17 L560.60,267.99 L561.52,267.82 L562.43,267.65 L563.34,267.47 L564.25,267.30 L565.16,267.13 L566.08,266.96 L566.99,266.79 L567.90,266.62 L568.81,266.45 L569.72,266.28 L570.64,266.11 L571.55,265.95 L572.46,265.78 L573.37,265.62 L574.28,265.45 L575.20,265.29 L576.11,265.12 L577.02,264.96 L577.93,264.80 L578.85,264.64 L579.76,264.48 L580.67,264.32 L581.58,264.16 L582.49,264.00 L583.41,263.85 L584.32,263.69 L585.23,263.54 L586.14,263.38 L587.05,263.23 L587.97,263.08 L588.88,262.93 L589.79,262.78 L590.70,262.63 L591.61,262.48 L592.53,262.33 L593.44,262.18 L594.35,262.04 L595.26,261.89 L596.17,261.75 L597.09,261.61 L598.00,261.46 L598.91,261.32 L599.82,261.18 L600.73,261.04 L601.65,260.90 L602.56,260.77 L603.47,260.63 L604.38,260.49 L605.29,260.36 L606.21,260.23 L607.12,260.09 L608.03,259.96 L608.94,259.83 L609.85,259.70 L610.77,259.57 L611.68,259.45 L612.59,259.32 L613.50,259.19 L614.41,259.07 L615.33,258.94 L616.24,258.82 L617.15,258.70 L618.06,258.58 L618.97,258.46 L619.89,258.33 L620.80,258.21 L621.71,258.09 L622.62,257.97 L623.54,257.85 L624.45,257.73 L625.36,257.60 L626.27,257.48 L627.18,257.35 L628.10,257.23 L629.01,257.10 L629.92,256.97 L630.83,256.84 L631.74,256.71 L632.66,256.58 L633.57,256.44 L634.48,256.31 L635.39,256.17 L636.30,256.03 L637.22,255.88 L638.13,255.74 L639.04,255.59 L639.95,255.44 L640.86,255.28 L641.78,255.13 L642.69,254.97 L643.60,254.80" stroke="#000" stroke-width="1.60"/>
<path d="M370.90,391.36 L371.81,390.05 L372.72,388.77 L373.64,387.50 L374.55,386.25 L375.46,385.02 L376.37,383.81 L377.28,382.61 L378.20,381.43 L379.11,380.26 L380.02,379.11 L380.93,377.97 L381.84,376.84 L382.76,375.73 L383.67,374.62 L384.58,373.52 L385.49,372.44 L386.40,371.36 L387.32,370.28 L388.23,369.22 L389.14,368.16 L390.05,367.11 L390.96,366.08 L391.88,365.05 L392.79,364.03 L393.70,363.02 L394.61,362.02 L395.53,361.03 L396.44,360.05 L397.35,359.09 L398.26,358.14 L399.17,357.20 L400.09,356.27 L401.00,355.35 L401.91,354.45 L402.82,353.57 L403.73,352.69 L404.65,351.83 L405.56,350.99 L406.47,350.15 L407.38,349.33 L408.29,348.52 L409.21,347.72 L410.12,346.93 L411.03,346.15 L411.94,345.39 L412.85,344.63 L413.77,343.89 L414.68,343.16 L415.59,342.43 L416.50,341.72 L417.41,341.02 L418.33,340.32 L419.24,339.64 L420.15,338.96 L421.06,338.29 L421.97,337.64 L422.89,336.99 L423.80,336.34 L424.71,335.71 L425.62,335.08 L426.53,334.46 L427.45,333.85 L428.36,333.24 L429.27,332.65 L430.18,332.05 L431.09,331.47 L432.01,330.89 L432.92,330.31 L433.83,329.74 L434.74,329.18 L435.65,328.63 L436.57,328.07 L437.48,327.53 L438.39,326.99 L439.30,326.46 L440.22,325.93 L441.13,325.41 L442.04,324.90 L442.95,324.39 L443.86,323.88 L444.78,323.39 L445.69,322.90 L446.60,322.41 L447.51,321.93 L448.42,321.46 L449.34,321.00 L450.25,320.54 L451.16,320.08 L452.07,319.63 L452.98,319.19 L453.90,318.76 L454.81,318.33 L455.72,317.90 L456.63,317.49 L457.54,317.08 L458.46,316.67 L459.37,316.28 L460.28,315.89 L461.19,315.50 L462.10,315.12 L463.02,314.75 L463.93,314.38 L464.84,314.02 L465.75,313.67 L466.66,313.32 L467.58,312.98 L468.49,312.64 L469.40,312.31 L470.31,311.98 L471.22,311.66 L472.14,311.34 L473.05,311.03 L473.96,310.72 L474.87,310.41 L475.78,310.11 L476.70,309.81 L477.61,309.52 L478.52,309.23 L479.43,308.94 L480.34,308.66 L481.26,308.38 L482.17,308.10 L483.08,307.82 L483.99,307.55 L484.91,307.28 L485.82,307.01 L486.73,306.74 L487.64,306.48 L488.55,306.22 L489.47,305.95 L490.38,305.69 L491.29,305.43 L492.20,305.17 L493.11,304.92 L494.03,304.66 L494.94,304.40 L495.85,304.15 L496.76,303.89 L497.67,303.64 L498.59,303.39 L499.50,303.14 L500.41,302.89 L501.32,302.64 L502.23,302.39 L503.15,302.14 L504.06,301.90 L504.97,301.65 L505.88,301.41 L506.79,301.17 L507.71,300.93 L508.62,300.69 L509.53,300.46 L510.44,300.22 L511.35,299.99 L512.27,299.76 L513.18,299.53 L514.09,299.30 L515.00,299.08 L515.91,298.86 L516.83,298.63 L517.74,298.42 L518.65,298.20 L519.56,297.98 L520.47,297.77 L521.39,297.56 L522.30,297.35 L523.21,297.15 L524.12,296.94 L525.03,296.74 L525.95,296.54 L526.86,296.35 L527.77,296.15 L528.68,295.96 L529.59,295.77 L530.51,295.58 L531.42,295.39 L532.33,295.21 L533.24,295.03 L534.16,294.85 L535.07,294.67 L535.98,294.49 L536.89,294.31 L537.80,294.14 L538.72,293.97 L539.63,293.80 L540.54,293.63 L541.45,293.46 L542.36,293.30 L543.28,293.14 L544.19,292.97 L545.10,292.81 L546.01,292.65 L546.92,292.50 L547.84,292.34 L548.75,292.18 L549.66,292.03 L550.57,291.88 L551.48,291.73 L552.40,291.58 L553.31,291.43 L554.22,291.28 L555.13,291.13 L556.04,290.99 L556.96,290.84 L557.87,290.70 L558.78,290.56 L559.69,290.41 L560.60,290.27 L561.52,290.14 L562.43,290.00 L563.34,289.86 L564.25,289.73 L565.16,289.59 L566.08,289.46 L566.99,289.33 L567.90,289.20 L568.81,289.07 L569.72,288.94 L570.64,288.82 L571.55,288.69 L572.46,288.57 L573.37,288.45 L574.28,288.33 L575.20,288.21 L576.11,288.09 L577.02,287.97 L577.93,287.86 L578.85,287.74 L579.76,287.63 L580.67,287.52 L581.58,287.41 L582.49,287.30 L583.41,287.19 L584.32,287.09 L585.23,286.98 L586.14,286.88 L587.05,286.78 L587.97,286.68 L588.88,286.58 L589.79,286.48 L590.70,286.39 L591.61,286.29 L592.53,286.20 L593.44,286.10 L594.35,286.01 L595.26,285.92 L596.17,285.83 L597.09,285.75 L598.00,285.66 L598.91,285.57 L599.82,285.49 L600.73,285.40 L601.65,285.32 L602.56,285.24 L603.47,285.16 L604.38,285.08 L605.29,285.00 L606.21,284.92 L607.12,284.84 L608.03,284.77 L608.94,284.69 L609.85,284.61 L610.77,284.54 L611.68,284.47 L612.59,284.39 L613.50,284.32 L614.41,284.25 L615.33,284.18 L616.24,284.11 L617.15,284.04 L618.06,283.97 L618.97,283.90 L619.89,283.83 L620.80,283.77 L621.71,283.70 L622.62,283.63 L623.54,283.57 L624.45,283.51 L625.36,283.44 L626.27,283.38 L627.18,283.32 L628.10,283.26 L629.01,283.20 L629.92,283.15 L630.83,283.09 L631.74,283.03 L632.66,282.98 L633.57,282.92 L634.48,282.87 L635.39,282.82 L636.30,282.77 L637.22,282.72 L638.13,282.67 L639.04,282.62 L639.95,282.58 L640.86,282.53 L641.78,282.49 L642.69,282.44 L643.60,282.40" stroke="#000" stroke-width="1.60"/>
</g>
<g stroke="#000" fill="none">
<rect x="370.90" y="250.60" width="272.70" height="151.50" stroke-width="1.3"/>
<path d="M401.20,402.10 v-6.00 M401.20,250.60 v6.00 M431.50,402.10 v-12.00 M431.50,250.60 v12.00 M461.80,402.10 v-6.00 M461.80,250.60 v6.00 M492.10,402.10 v-12.00 M492.10,250.60 v12.00 M522.40,402.10 v-6.00 M522.40,250.60 v6.00 M552.70,402.10 v-12.00 M552.70,250.60 v12.00 M583.00,402.10 v-6.00 M583.00,250.60 v6.00 M613.30,402.10 v-12.00 M613.30,250.60 v12.00 M370.90,264.10 h6.00 M643.60,264.10 h-6.00 M370.90,277.90 h12.00 M643.60,277.90 h-12.00 M370.90,291.70 h6.00 M643.60,291.70 h-6.00 M370.90,305.50 h12.00 M643.60,305.50 h-12.00 M370.90,319.30 h6.00 M643.60,319.30 h-6.00 M370.90,333.10 h12.00 M643.60,333.10 h-12.00 M370.90,346.90 h6.00 M643.60,346.90 h-6.00 M370.90,360.70 h12.00 M643.60,360.70 h-12.00 M370.90,374.50 h6.00 M643.60,374.50 h-6.00 M370.90,388.30 h12.00 M643.60,388.30 h-12.00" stroke-width="1.1"/>
</g>
<g font-size="16.5" fill="#000">
<text x="364.5" y="283.50" text-anchor="end">0.0</text>
<text x="364.5" y="311.10" text-anchor="end">-0.1</text>
<text x="364.5" y="338.70" text-anchor="end">-0.2</text>
<text x="364.5" y="366.30" text-anchor="end">-0.3</text>
<text x="364.5" y="393.90" text-anchor="end">-0.4</text>
<text x="370.90" y="419.3" text-anchor="middle">1.6</text>
<text x="431.50" y="419.3" text-anchor="middle">1.8</text>
<text x="492.10" y="419.3" text-anchor="middle">2.0</text>
<text x="552.70" y="419.3" text-anchor="middle">2.2</text>
<text x="613.30" y="419.3" text-anchor="middle">2.4</text>
</g>
</svg></body></html>
